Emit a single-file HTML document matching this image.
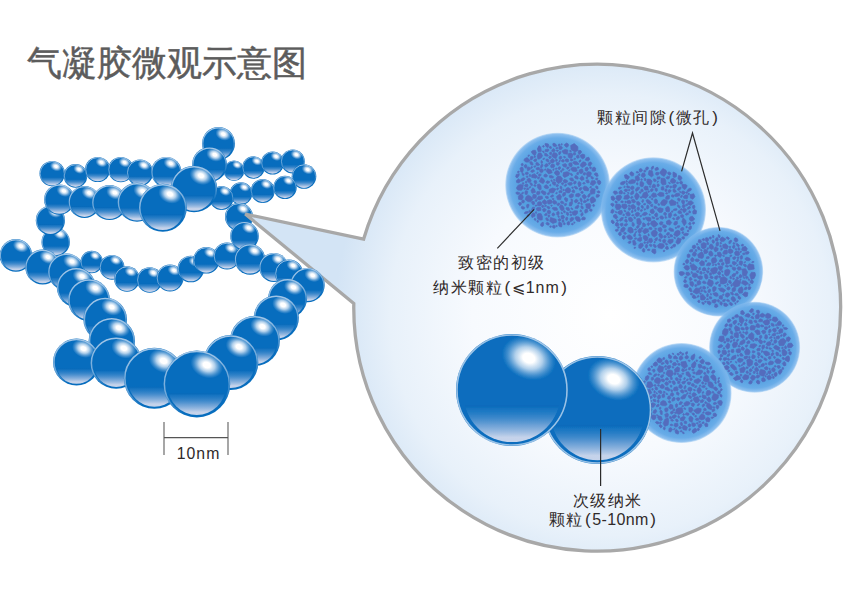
<!DOCTYPE html>
<html><head><meta charset="utf-8">
<style>
html,body{margin:0;padding:0;background:#fff;}
body{width:850px;height:604px;position:relative;overflow:hidden;font-family:"Liberation Sans",sans-serif;}
svg{position:absolute;left:0;top:0;}
.t{position:absolute;white-space:nowrap;color:#302a2a;font-size:16px;letter-spacing:1.5px;line-height:20px;}
.p{font-size:17px;letter-spacing:0;margin:0 1.5px;}
.l{letter-spacing:1px;}
.l2{letter-spacing:0.4px;}
</style></head><body>
<svg width="850" height="604" viewBox="0 0 850 604">
<defs>
<linearGradient id="bot" x1="0" y1="0" x2="0" y2="1">
<stop offset="0.612" stop-color="#076dbe" stop-opacity="0"/>
<stop offset="0.625" stop-color="#0a62b0" stop-opacity="0.25"/>
<stop offset="0.66" stop-color="#3583c9" stop-opacity="0.35"/>
<stop offset="0.82" stop-color="#8ab0dd" stop-opacity="0.75"/>
<stop offset="0.95" stop-color="#cbd6ec" stop-opacity="0.97"/>
<stop offset="1" stop-color="#cbd6ec" stop-opacity="0.97"/>
</linearGradient>
<radialGradient id="hl" cx="0.5" cy="0.5" r="0.5">
<stop offset="0" stop-color="#fff" stop-opacity="1"/>
<stop offset="0.22" stop-color="#fff" stop-opacity="1"/>
<stop offset="0.5" stop-color="#eaf1fa" stop-opacity="0.75"/>
<stop offset="0.78" stop-color="#cfdff3" stop-opacity="0.3"/>
<stop offset="1" stop-color="#b0cbec" stop-opacity="0"/>
</radialGradient>
<radialGradient id="bub" gradientUnits="userSpaceOnUse" cx="610" cy="315" r="275">
<stop offset="0" stop-color="#ffffff"/>
<stop offset="0.5" stop-color="#f7fafe"/>
<stop offset="0.8" stop-color="#e8f1fa"/>
<stop offset="1" stop-color="#d3e4f5"/>
</radialGradient>
<radialGradient id="por" cx="0.5" cy="0.5" r="0.5">
<stop offset="0" stop-color="#53a0e0"/>
<stop offset="0.72" stop-color="#53a0e0"/>
<stop offset="0.9" stop-color="#69ace8"/>
<stop offset="0.97" stop-color="#7ab5ec" stop-opacity="0.85"/>
<stop offset="1" stop-color="#8cc0ef" stop-opacity="0.4"/>
</radialGradient>

<filter id="soft" x="-10%" y="-10%" width="120%" height="120%"><feGaussianBlur stdDeviation="0.55"/></filter>
<linearGradient id="rim" x1="0.2" y1="0" x2="0.5" y2="1">
<stop offset="0" stop-color="#cfe0f3" stop-opacity="0.8"/>
<stop offset="0.6" stop-color="#b8d2ee" stop-opacity="0.55"/>
<stop offset="0.9" stop-color="#b8d2ee" stop-opacity="0"/>
</linearGradient>
</defs>
<g><circle cx="52.2" cy="173.6" r="12.7" fill="#076dbe"/><circle cx="52.2" cy="174.43" r="10.99" fill="url(#bot)"/><ellipse cx="56.0" cy="166.4" rx="6.3" ry="4.8" fill="url(#hl)" transform="rotate(22 56.0 166.4)"/><circle cx="52.2" cy="173.6" r="12.05" fill="none" stroke="url(#rim)" stroke-width="0.91"/></g><g><circle cx="75.5" cy="175.9" r="11.8" fill="#076dbe"/><circle cx="75.5" cy="176.67" r="10.21" fill="url(#bot)"/><ellipse cx="79.0" cy="169.2" rx="5.9" ry="4.5" fill="url(#hl)" transform="rotate(22 79.0 169.2)"/><circle cx="75.5" cy="175.9" r="11.18" fill="none" stroke="url(#rim)" stroke-width="0.84"/></g><g><circle cx="97.7" cy="169.5" r="12.6" fill="#076dbe"/><circle cx="97.7" cy="170.32" r="10.90" fill="url(#bot)"/><ellipse cx="101.5" cy="162.3" rx="6.3" ry="4.8" fill="url(#hl)" transform="rotate(22 101.5 162.3)"/><circle cx="97.7" cy="169.5" r="11.95" fill="none" stroke="url(#rim)" stroke-width="0.90"/></g><g><circle cx="120.8" cy="169.6" r="12.7" fill="#076dbe"/><circle cx="120.8" cy="170.43" r="10.99" fill="url(#bot)"/><ellipse cx="124.6" cy="162.4" rx="6.3" ry="4.8" fill="url(#hl)" transform="rotate(22 124.6 162.4)"/><circle cx="120.8" cy="169.6" r="12.05" fill="none" stroke="url(#rim)" stroke-width="0.91"/></g><g><circle cx="140.0" cy="172.6" r="13.2" fill="#076dbe"/><circle cx="140.0" cy="173.46" r="11.42" fill="url(#bot)"/><ellipse cx="144.0" cy="165.1" rx="6.6" ry="5.0" fill="url(#hl)" transform="rotate(22 144.0 165.1)"/><circle cx="140.0" cy="172.6" r="12.53" fill="none" stroke="url(#rim)" stroke-width="0.94"/></g><g><circle cx="166.3" cy="172.0" r="15.1" fill="#076dbe"/><circle cx="166.3" cy="172.98" r="13.06" fill="url(#bot)"/><ellipse cx="170.8" cy="163.4" rx="7.5" ry="5.7" fill="url(#hl)" transform="rotate(22 170.8 163.4)"/><circle cx="166.3" cy="172.0" r="14.36" fill="none" stroke="url(#rim)" stroke-width="1.08"/></g><g><circle cx="234.0" cy="170.8" r="10.3" fill="#076dbe"/><circle cx="234.0" cy="171.47" r="8.91" fill="url(#bot)"/><ellipse cx="237.1" cy="164.9" rx="5.2" ry="3.9" fill="url(#hl)" transform="rotate(22 237.1 164.9)"/><circle cx="234.0" cy="170.8" r="9.73" fill="none" stroke="url(#rim)" stroke-width="0.74"/></g><g><circle cx="253.5" cy="167.5" r="11.2" fill="#076dbe"/><circle cx="253.5" cy="168.23" r="9.69" fill="url(#bot)"/><ellipse cx="256.9" cy="161.1" rx="5.6" ry="4.3" fill="url(#hl)" transform="rotate(22 256.9 161.1)"/><circle cx="253.5" cy="167.5" r="10.60" fill="none" stroke="url(#rim)" stroke-width="0.80"/></g><g><circle cx="272.6" cy="163.0" r="11.5" fill="#076dbe"/><circle cx="272.6" cy="163.75" r="9.95" fill="url(#bot)"/><ellipse cx="276.1" cy="156.4" rx="5.8" ry="4.4" fill="url(#hl)" transform="rotate(22 276.1 156.4)"/><circle cx="272.6" cy="163.0" r="10.89" fill="none" stroke="url(#rim)" stroke-width="0.82"/></g><g><circle cx="292.8" cy="161.4" r="12.0" fill="#076dbe"/><circle cx="292.8" cy="162.18" r="10.38" fill="url(#bot)"/><ellipse cx="296.4" cy="154.6" rx="6.0" ry="4.6" fill="url(#hl)" transform="rotate(22 296.4 154.6)"/><circle cx="292.8" cy="161.4" r="11.37" fill="none" stroke="url(#rim)" stroke-width="0.86"/></g><g><circle cx="304.0" cy="176.5" r="12.3" fill="#076dbe"/><circle cx="304.0" cy="177.30" r="10.64" fill="url(#bot)"/><ellipse cx="307.7" cy="169.5" rx="6.2" ry="4.7" fill="url(#hl)" transform="rotate(22 307.7 169.5)"/><circle cx="304.0" cy="176.5" r="11.66" fill="none" stroke="url(#rim)" stroke-width="0.88"/></g><g><circle cx="285.0" cy="187.4" r="11.7" fill="#076dbe"/><circle cx="285.0" cy="188.16" r="10.12" fill="url(#bot)"/><ellipse cx="288.5" cy="180.7" rx="5.8" ry="4.4" fill="url(#hl)" transform="rotate(22 288.5 180.7)"/><circle cx="285.0" cy="187.4" r="11.08" fill="none" stroke="url(#rim)" stroke-width="0.84"/></g><g><circle cx="262.7" cy="191.0" r="12.0" fill="#076dbe"/><circle cx="262.7" cy="191.78" r="10.38" fill="url(#bot)"/><ellipse cx="266.3" cy="184.2" rx="6.0" ry="4.6" fill="url(#hl)" transform="rotate(22 266.3 184.2)"/><circle cx="262.7" cy="191.0" r="11.37" fill="none" stroke="url(#rim)" stroke-width="0.86"/></g><g><circle cx="241.0" cy="193.6" r="11.3" fill="#076dbe"/><circle cx="241.0" cy="194.33" r="9.77" fill="url(#bot)"/><ellipse cx="244.4" cy="187.2" rx="5.7" ry="4.3" fill="url(#hl)" transform="rotate(22 244.4 187.2)"/><circle cx="241.0" cy="193.6" r="10.70" fill="none" stroke="url(#rim)" stroke-width="0.81"/></g><g><circle cx="221.5" cy="198.0" r="12.0" fill="#076dbe"/><circle cx="221.5" cy="198.78" r="10.38" fill="url(#bot)"/><ellipse cx="225.1" cy="191.2" rx="6.0" ry="4.6" fill="url(#hl)" transform="rotate(22 225.1 191.2)"/><circle cx="221.5" cy="198.0" r="11.37" fill="none" stroke="url(#rim)" stroke-width="0.86"/></g><g><circle cx="218.5" cy="143.5" r="16.5" fill="#076dbe"/><circle cx="218.5" cy="144.57" r="14.27" fill="url(#bot)"/><ellipse cx="223.4" cy="134.1" rx="8.2" ry="6.3" fill="url(#hl)" transform="rotate(22 223.4 134.1)"/><circle cx="218.5" cy="143.5" r="15.71" fill="none" stroke="url(#rim)" stroke-width="1.18"/></g><g><circle cx="209.5" cy="164.7" r="17.5" fill="#076dbe"/><circle cx="209.5" cy="165.84" r="15.14" fill="url(#bot)"/><ellipse cx="214.8" cy="154.7" rx="8.8" ry="6.7" fill="url(#hl)" transform="rotate(22 214.8 154.7)"/><circle cx="209.5" cy="164.7" r="16.68" fill="none" stroke="url(#rim)" stroke-width="1.25"/></g><g><circle cx="194.0" cy="189.0" r="23.3" fill="#076dbe"/><circle cx="194.0" cy="190.51" r="20.15" fill="url(#bot)"/><ellipse cx="201.0" cy="175.7" rx="11.7" ry="8.9" fill="url(#hl)" transform="rotate(22 201.0 175.7)"/><circle cx="194.0" cy="189.0" r="22.35" fill="none" stroke="url(#rim)" stroke-width="1.50"/></g><g><circle cx="55.7" cy="242.0" r="14.2" fill="#076dbe"/><circle cx="55.7" cy="242.92" r="12.28" fill="url(#bot)"/><ellipse cx="60.0" cy="233.9" rx="7.1" ry="5.4" fill="url(#hl)" transform="rotate(22 60.0 233.9)"/><circle cx="55.7" cy="242.0" r="13.49" fill="none" stroke="url(#rim)" stroke-width="1.01"/></g><g><circle cx="50.4" cy="220.4" r="14.6" fill="#076dbe"/><circle cx="50.4" cy="221.35" r="12.63" fill="url(#bot)"/><ellipse cx="54.8" cy="212.1" rx="7.3" ry="5.5" fill="url(#hl)" transform="rotate(22 54.8 212.1)"/><circle cx="50.4" cy="220.4" r="13.88" fill="none" stroke="url(#rim)" stroke-width="1.04"/></g><g><circle cx="59.3" cy="199.6" r="15.2" fill="#076dbe"/><circle cx="59.3" cy="200.59" r="13.15" fill="url(#bot)"/><ellipse cx="63.9" cy="190.9" rx="7.6" ry="5.8" fill="url(#hl)" transform="rotate(22 63.9 190.9)"/><circle cx="59.3" cy="199.6" r="14.46" fill="none" stroke="url(#rim)" stroke-width="1.09"/></g><g><circle cx="84.5" cy="202.0" r="16.0" fill="#076dbe"/><circle cx="84.5" cy="203.04" r="13.84" fill="url(#bot)"/><ellipse cx="89.3" cy="192.9" rx="8.0" ry="6.1" fill="url(#hl)" transform="rotate(22 89.3 192.9)"/><circle cx="84.5" cy="202.0" r="15.23" fill="none" stroke="url(#rim)" stroke-width="1.14"/></g><g><circle cx="109.5" cy="202.6" r="17.5" fill="#076dbe"/><circle cx="109.5" cy="203.74" r="15.14" fill="url(#bot)"/><ellipse cx="114.8" cy="192.6" rx="8.8" ry="6.7" fill="url(#hl)" transform="rotate(22 114.8 192.6)"/><circle cx="109.5" cy="202.6" r="16.68" fill="none" stroke="url(#rim)" stroke-width="1.25"/></g><g><circle cx="137.0" cy="202.3" r="19.5" fill="#076dbe"/><circle cx="137.0" cy="203.57" r="16.87" fill="url(#bot)"/><ellipse cx="142.8" cy="191.2" rx="9.8" ry="7.4" fill="url(#hl)" transform="rotate(22 142.8 191.2)"/><circle cx="137.0" cy="202.3" r="18.60" fill="none" stroke="url(#rim)" stroke-width="1.39"/></g><g><circle cx="162.8" cy="207.8" r="24.0" fill="#076dbe"/><circle cx="162.8" cy="209.36" r="20.76" fill="url(#bot)"/><ellipse cx="170.0" cy="194.1" rx="12.0" ry="9.1" fill="url(#hl)" transform="rotate(22 170.0 194.1)"/><circle cx="162.8" cy="207.8" r="23.05" fill="none" stroke="url(#rim)" stroke-width="1.50"/></g><g><circle cx="15.9" cy="255.4" r="16.3" fill="#076dbe"/><circle cx="15.9" cy="256.46" r="14.10" fill="url(#bot)"/><ellipse cx="20.8" cy="246.1" rx="8.2" ry="6.2" fill="url(#hl)" transform="rotate(22 20.8 246.1)"/><circle cx="15.9" cy="255.4" r="15.52" fill="none" stroke="url(#rim)" stroke-width="1.16"/></g><g><circle cx="42.7" cy="267.0" r="17.5" fill="#076dbe"/><circle cx="42.7" cy="268.14" r="15.14" fill="url(#bot)"/><ellipse cx="48.0" cy="257.0" rx="8.8" ry="6.7" fill="url(#hl)" transform="rotate(22 48.0 257.0)"/><circle cx="42.7" cy="267.0" r="16.68" fill="none" stroke="url(#rim)" stroke-width="1.25"/></g><g><circle cx="66.5" cy="272.0" r="18.5" fill="#076dbe"/><circle cx="66.5" cy="273.20" r="16.00" fill="url(#bot)"/><ellipse cx="72.0" cy="261.5" rx="9.2" ry="7.0" fill="url(#hl)" transform="rotate(22 72.0 261.5)"/><circle cx="66.5" cy="272.0" r="17.64" fill="none" stroke="url(#rim)" stroke-width="1.32"/></g><g><circle cx="91.7" cy="262.0" r="11.2" fill="#076dbe"/><circle cx="91.7" cy="262.73" r="9.69" fill="url(#bot)"/><ellipse cx="95.1" cy="255.6" rx="5.6" ry="4.3" fill="url(#hl)" transform="rotate(22 95.1 255.6)"/><circle cx="91.7" cy="262.0" r="10.60" fill="none" stroke="url(#rim)" stroke-width="0.80"/></g><g><circle cx="112.0" cy="267.3" r="12.4" fill="#076dbe"/><circle cx="112.0" cy="268.11" r="10.73" fill="url(#bot)"/><ellipse cx="115.7" cy="260.2" rx="6.2" ry="4.7" fill="url(#hl)" transform="rotate(22 115.7 260.2)"/><circle cx="112.0" cy="267.3" r="11.76" fill="none" stroke="url(#rim)" stroke-width="0.89"/></g><g><circle cx="127.0" cy="279.0" r="12.8" fill="#076dbe"/><circle cx="127.0" cy="279.83" r="11.07" fill="url(#bot)"/><ellipse cx="130.8" cy="271.7" rx="6.4" ry="4.9" fill="url(#hl)" transform="rotate(22 130.8 271.7)"/><circle cx="127.0" cy="279.0" r="12.14" fill="none" stroke="url(#rim)" stroke-width="0.91"/></g><g><circle cx="149.7" cy="280.0" r="12.8" fill="#076dbe"/><circle cx="149.7" cy="280.83" r="11.07" fill="url(#bot)"/><ellipse cx="153.5" cy="272.7" rx="6.4" ry="4.9" fill="url(#hl)" transform="rotate(22 153.5 272.7)"/><circle cx="149.7" cy="280.0" r="12.14" fill="none" stroke="url(#rim)" stroke-width="0.91"/></g><g><circle cx="170.0" cy="278.0" r="13.5" fill="#076dbe"/><circle cx="170.0" cy="278.88" r="11.68" fill="url(#bot)"/><ellipse cx="174.1" cy="270.3" rx="6.8" ry="5.1" fill="url(#hl)" transform="rotate(22 174.1 270.3)"/><circle cx="170.0" cy="278.0" r="12.82" fill="none" stroke="url(#rim)" stroke-width="0.96"/></g><g><circle cx="190.8" cy="269.0" r="13.3" fill="#076dbe"/><circle cx="190.8" cy="269.86" r="11.50" fill="url(#bot)"/><ellipse cx="194.8" cy="261.4" rx="6.7" ry="5.1" fill="url(#hl)" transform="rotate(22 194.8 261.4)"/><circle cx="190.8" cy="269.0" r="12.63" fill="none" stroke="url(#rim)" stroke-width="0.95"/></g><g><circle cx="206.3" cy="260.3" r="13.3" fill="#076dbe"/><circle cx="206.3" cy="261.16" r="11.50" fill="url(#bot)"/><ellipse cx="210.3" cy="252.7" rx="6.7" ry="5.1" fill="url(#hl)" transform="rotate(22 210.3 252.7)"/><circle cx="206.3" cy="260.3" r="12.63" fill="none" stroke="url(#rim)" stroke-width="0.95"/></g><g><circle cx="76.3" cy="287.4" r="19.5" fill="#076dbe"/><circle cx="76.3" cy="288.67" r="16.87" fill="url(#bot)"/><ellipse cx="82.1" cy="276.3" rx="9.8" ry="7.4" fill="url(#hl)" transform="rotate(22 82.1 276.3)"/><circle cx="76.3" cy="287.4" r="18.60" fill="none" stroke="url(#rim)" stroke-width="1.39"/></g><g><circle cx="89.0" cy="300.0" r="21.0" fill="#076dbe"/><circle cx="89.0" cy="301.37" r="18.16" fill="url(#bot)"/><ellipse cx="95.3" cy="288.0" rx="10.5" ry="8.0" fill="url(#hl)" transform="rotate(22 95.3 288.0)"/><circle cx="89.0" cy="300.0" r="20.05" fill="none" stroke="url(#rim)" stroke-width="1.50"/></g><g><circle cx="105.2" cy="319.4" r="21.8" fill="#076dbe"/><circle cx="105.2" cy="320.82" r="18.86" fill="url(#bot)"/><ellipse cx="111.7" cy="307.0" rx="10.9" ry="8.3" fill="url(#hl)" transform="rotate(22 111.7 307.0)"/><circle cx="105.2" cy="319.4" r="20.85" fill="none" stroke="url(#rim)" stroke-width="1.50"/></g><g><circle cx="111.8" cy="341.0" r="23.2" fill="#076dbe"/><circle cx="111.8" cy="342.51" r="20.07" fill="url(#bot)"/><ellipse cx="118.8" cy="327.8" rx="11.6" ry="8.8" fill="url(#hl)" transform="rotate(22 118.8 327.8)"/><circle cx="111.8" cy="341.0" r="22.25" fill="none" stroke="url(#rim)" stroke-width="1.50"/></g><g><circle cx="76.5" cy="362.0" r="23.5" fill="#076dbe"/><circle cx="76.5" cy="363.53" r="20.33" fill="url(#bot)"/><ellipse cx="83.5" cy="348.6" rx="11.8" ry="8.9" fill="url(#hl)" transform="rotate(22 83.5 348.6)"/><circle cx="76.5" cy="362.0" r="22.55" fill="none" stroke="url(#rim)" stroke-width="1.50"/></g><g><circle cx="116.2" cy="363.0" r="25.8" fill="#076dbe"/><circle cx="116.2" cy="364.68" r="22.32" fill="url(#bot)"/><ellipse cx="123.9" cy="348.3" rx="12.9" ry="9.8" fill="url(#hl)" transform="rotate(22 123.9 348.3)"/><circle cx="116.2" cy="363.0" r="24.85" fill="none" stroke="url(#rim)" stroke-width="1.50"/></g><g><circle cx="154.4" cy="378.3" r="30.5" fill="#076dbe"/><circle cx="154.4" cy="380.28" r="26.38" fill="url(#bot)"/><ellipse cx="163.6" cy="360.9" rx="15.2" ry="11.6" fill="url(#hl)" transform="rotate(22 163.6 360.9)"/><circle cx="154.4" cy="378.3" r="29.55" fill="none" stroke="url(#rim)" stroke-width="1.50"/></g><g><circle cx="239.0" cy="216.8" r="14.0" fill="#076dbe"/><circle cx="239.0" cy="217.71" r="12.11" fill="url(#bot)"/><ellipse cx="243.2" cy="208.8" rx="7.0" ry="5.3" fill="url(#hl)" transform="rotate(22 243.2 208.8)"/><circle cx="239.0" cy="216.8" r="13.30" fill="none" stroke="url(#rim)" stroke-width="1.00"/></g>
<path d="M363.65,239.05 L245.3,214.1 L353.8,303.5 A243.4,243.4 0 1 0 363.65,239.05 Z" fill="url(#bub)" stroke="#a8a8a8" stroke-width="3.3" stroke-linejoin="miter"/>
<g><circle cx="227.0" cy="256.0" r="13.5" fill="#076dbe"/><circle cx="227.0" cy="256.88" r="11.68" fill="url(#bot)"/><ellipse cx="231.1" cy="248.3" rx="6.8" ry="5.1" fill="url(#hl)" transform="rotate(22 231.1 248.3)"/><circle cx="227.0" cy="256.0" r="12.82" fill="none" stroke="url(#rim)" stroke-width="0.96"/></g><g><circle cx="244.5" cy="236.1" r="14.3" fill="#076dbe"/><circle cx="244.5" cy="237.03" r="12.37" fill="url(#bot)"/><ellipse cx="248.8" cy="227.9" rx="7.2" ry="5.4" fill="url(#hl)" transform="rotate(22 248.8 227.9)"/><circle cx="244.5" cy="236.1" r="13.59" fill="none" stroke="url(#rim)" stroke-width="1.02"/></g><g><circle cx="250.0" cy="259.4" r="15.3" fill="#076dbe"/><circle cx="250.0" cy="260.39" r="13.23" fill="url(#bot)"/><ellipse cx="254.6" cy="250.7" rx="7.7" ry="5.8" fill="url(#hl)" transform="rotate(22 254.6 250.7)"/><circle cx="250.0" cy="259.4" r="14.55" fill="none" stroke="url(#rim)" stroke-width="1.09"/></g><g><circle cx="273.8" cy="267.4" r="14.5" fill="#076dbe"/><circle cx="273.8" cy="268.34" r="12.54" fill="url(#bot)"/><ellipse cx="278.2" cy="259.1" rx="7.2" ry="5.5" fill="url(#hl)" transform="rotate(22 278.2 259.1)"/><circle cx="273.8" cy="267.4" r="13.78" fill="none" stroke="url(#rim)" stroke-width="1.04"/></g><g><circle cx="289.0" cy="273.5" r="14.0" fill="#076dbe"/><circle cx="289.0" cy="274.41" r="12.11" fill="url(#bot)"/><ellipse cx="293.2" cy="265.5" rx="7.0" ry="5.3" fill="url(#hl)" transform="rotate(22 293.2 265.5)"/><circle cx="289.0" cy="273.5" r="13.30" fill="none" stroke="url(#rim)" stroke-width="1.00"/></g><g><circle cx="307.5" cy="285.1" r="17.2" fill="#076dbe"/><circle cx="307.5" cy="286.22" r="14.88" fill="url(#bot)"/><ellipse cx="312.7" cy="275.3" rx="8.6" ry="6.5" fill="url(#hl)" transform="rotate(22 312.7 275.3)"/><circle cx="307.5" cy="285.1" r="16.39" fill="none" stroke="url(#rim)" stroke-width="1.23"/></g><g><circle cx="287.6" cy="298.4" r="19.5" fill="#076dbe"/><circle cx="287.6" cy="299.67" r="16.87" fill="url(#bot)"/><ellipse cx="293.5" cy="287.3" rx="9.8" ry="7.4" fill="url(#hl)" transform="rotate(22 293.5 287.3)"/><circle cx="287.6" cy="298.4" r="18.60" fill="none" stroke="url(#rim)" stroke-width="1.39"/></g><g><circle cx="276.3" cy="317.8" r="22.6" fill="#076dbe"/><circle cx="276.3" cy="319.27" r="19.55" fill="url(#bot)"/><ellipse cx="283.1" cy="304.9" rx="11.3" ry="8.6" fill="url(#hl)" transform="rotate(22 283.1 304.9)"/><circle cx="276.3" cy="317.8" r="21.65" fill="none" stroke="url(#rim)" stroke-width="1.50"/></g><g><circle cx="254.9" cy="340.8" r="25.0" fill="#076dbe"/><circle cx="254.9" cy="342.43" r="21.62" fill="url(#bot)"/><ellipse cx="262.4" cy="326.6" rx="12.5" ry="9.5" fill="url(#hl)" transform="rotate(22 262.4 326.6)"/><circle cx="254.9" cy="340.8" r="24.05" fill="none" stroke="url(#rim)" stroke-width="1.50"/></g><g><circle cx="230.8" cy="362.5" r="27.5" fill="#076dbe"/><circle cx="230.8" cy="364.29" r="23.79" fill="url(#bot)"/><ellipse cx="239.1" cy="346.8" rx="13.8" ry="10.4" fill="url(#hl)" transform="rotate(22 239.1 346.8)"/><circle cx="230.8" cy="362.5" r="26.55" fill="none" stroke="url(#rim)" stroke-width="1.50"/></g><g><circle cx="196.8" cy="384.0" r="33.4" fill="#076dbe"/><circle cx="196.8" cy="386.17" r="28.89" fill="url(#bot)"/><ellipse cx="206.8" cy="365.0" rx="16.7" ry="12.7" fill="url(#hl)" transform="rotate(22 206.8 365.0)"/><circle cx="196.8" cy="384.0" r="32.45" fill="none" stroke="url(#rim)" stroke-width="1.50"/></g>
<circle cx="557.6" cy="185.1" r="52.4" fill="url(#por)"/><path fill="#546cbd" stroke="#546cbd" stroke-width="0.7" stroke-linejoin="round" d="M531.2,196.8 533.0,199.5 530.5,201.8 527.9,201.6 525.1,199.5 526.2,196.4 528.4,195.2ZM564.6,177.5 563.0,175.9 563.4,172.6 567.2,171.7 569.7,173.0 568.7,175.4ZM567.6,200.9 566.2,202.0 564.3,199.0 565.1,197.4 567.5,198.5ZM577.6,179.2 575.5,178.5 574.4,177.2 575.7,175.3 577.6,176.5 578.4,178.1ZM585.7,204.1 589.8,203.6 590.9,205.5 589.7,208.9 586.3,207.9ZM558.7,225.6 558.7,222.9 559.1,222.0 561.5,222.9 562.0,224.2 561.7,226.9 559.8,226.7ZM547.8,213.5 547.0,212.1 548.0,210.2 550.3,210.8 550.6,212.6 550.0,213.7ZM573.0,215.0 572.0,212.2 574.4,210.7 577.5,210.9 577.6,213.2 575.7,215.3ZM575.6,196.2 575.9,194.0 579.0,193.3 580.6,195.0 578.6,196.9ZM549.7,221.3 550.5,217.4 556.1,219.3 556.4,222.2 552.9,223.4ZM556.6,203.5 554.3,204.2 552.7,203.1 553.5,200.4 555.2,200.7 556.9,202.1ZM554.3,151.7 551.9,151.6 551.8,150.1 553.4,148.4 555.3,150.0ZM549.2,192.5 549.2,189.4 552.7,188.0 555.9,189.1 553.4,193.0ZM534.4,173.7 537.4,176.3 535.8,178.2 531.7,177.4 531.7,174.9ZM567.9,159.0 568.6,159.8 568.4,161.7 566.9,162.1 565.2,160.9 565.1,159.8 566.5,158.8ZM552.2,172.7 548.7,174.0 546.3,171.3 547.5,168.5 551.2,170.1ZM556.5,196.6 559.7,194.0 561.5,196.4 560.6,199.8 557.5,199.6ZM591.4,173.5 590.4,176.4 587.6,176.7 586.1,173.7 587.8,171.7 590.6,172.0ZM543.3,170.4 542.8,171.9 541.5,172.8 539.9,171.7 539.7,169.7 541.0,168.7 542.7,169.2ZM555.7,183.9 555.2,185.3 553.8,185.0 552.4,183.9 552.5,181.9 553.7,181.7 555.4,182.1ZM558.9,149.0 559.1,146.6 560.7,145.9 561.9,146.9 562.5,147.7 561.5,149.2 560.3,149.7ZM533.3,169.7 534.7,171.0 532.6,172.5 530.7,171.7 531.4,170.2ZM588.2,190.9 584.3,190.5 582.7,187.9 584.5,185.9 586.8,186.7 588.9,188.7ZM541.6,157.6 539.3,159.0 537.9,159.1 537.3,155.7 538.5,153.1 540.9,152.9 542.5,155.6ZM582.7,154.1 584.7,154.8 584.8,157.4 582.7,158.9 580.9,157.6 580.2,155.3ZM591.6,180.7 595.0,180.7 595.8,183.1 593.0,185.6 590.2,184.2ZM542.2,219.9 539.9,220.1 537.5,218.8 537.2,214.3 538.9,213.4 541.1,213.7 542.4,216.5ZM571.6,167.7 573.5,167.2 576.3,167.8 577.1,170.7 576.2,171.6 572.6,171.2 570.7,169.2ZM529.7,162.3 531.0,161.4 532.6,162.7 533.1,164.9 531.7,165.0 530.4,164.2ZM543.2,183.6 541.2,182.8 539.2,181.4 540.2,179.4 541.5,177.6 543.7,179.0 544.7,181.2ZM561.5,189.7 560.0,187.9 560.2,186.3 561.3,186.2 562.0,187.8ZM553.9,210.3 552.0,208.3 553.0,207.4 556.4,207.5 557.3,208.6 557.4,210.2ZM539.3,184.0 541.0,185.6 541.2,189.3 539.8,190.2 537.7,188.1 537.5,184.5ZM571.0,149.5 570.7,145.5 574.2,143.6 577.9,146.7 577.8,150.5 575.0,152.0ZM525.3,164.5 526.4,164.8 527.1,166.4 526.6,167.6 525.5,168.2 524.0,166.2 524.4,165.3ZM536.7,198.9 538.5,196.2 542.1,196.2 542.7,198.5 539.7,199.9ZM560.9,156.1 561.9,157.1 561.6,158.6 560.3,159.4 559.6,159.2 558.9,158.0 559.7,156.4ZM525.2,184.4 527.2,184.0 528.0,185.1 527.6,186.7 525.8,187.1 524.4,185.7ZM580.5,201.1 579.9,199.1 580.6,197.9 581.9,199.1 582.2,201.0 581.5,202.4ZM523.2,185.1 522.7,189.0 521.3,190.3 517.7,190.1 516.4,188.1 517.9,185.4 520.3,184.4ZM577.4,158.3 576.7,157.7 576.3,156.0 577.6,155.1 578.6,154.8 579.1,156.3 579.2,157.8ZM590.7,194.3 590.2,191.2 591.6,188.4 595.2,189.1 594.7,193.6ZM572.3,201.0 572.5,203.6 571.3,205.9 569.1,205.7 569.6,202.6ZM534.6,207.2 534.5,209.1 533.1,211.0 532.0,211.6 531.6,209.6 532.5,207.2ZM556.8,175.6 554.6,173.6 554.6,172.0 555.9,170.8 558.2,170.8 559.7,172.7 559.1,174.7ZM586.5,164.4 584.9,166.1 582.4,167.6 580.5,166.1 580.8,163.8 583.0,161.8 585.3,162.3ZM579.0,164.2 576.1,164.8 574.7,164.4 572.6,162.9 574.0,161.2 576.1,161.4 578.3,162.9ZM554.3,160.0 554.2,161.9 552.7,162.9 551.2,162.7 550.3,160.8 551.0,159.7 552.6,158.6ZM542.5,209.5 544.4,208.1 546.3,209.7 544.9,211.7 543.2,211.5ZM573.0,154.7 571.9,157.9 570.0,158.2 568.4,157.2 568.0,154.8 568.8,153.2 571.4,153.1ZM540.6,201.7 541.8,203.0 541.6,205.1 539.9,206.0 537.7,205.6 537.4,203.2 538.0,202.0ZM570.6,191.3 569.3,192.9 566.8,192.7 564.8,190.5 566.2,188.4 568.0,187.5 570.3,188.8ZM551.1,200.0 552.6,201.5 551.2,203.6 548.6,204.2 547.6,203.2 547.5,200.4 549.7,199.8ZM569.5,182.4 571.7,182.5 572.5,184.0 571.1,185.3 568.8,185.1 567.6,183.6ZM581.8,212.7 582.4,212.4 583.2,214.2 582.7,215.3 581.5,216.3 580.7,214.6ZM521.9,200.0 518.5,199.2 518.4,196.3 520.5,193.8 523.0,195.7 523.2,197.6ZM545.9,159.9 546.3,159.0 548.0,159.1 548.8,160.4 549.1,161.6 548.1,162.1 546.3,161.0ZM535.8,163.8 536.5,162.3 538.1,162.9 539.2,163.9 539.6,164.9 538.2,165.5 536.3,165.2ZM532.0,193.3 531.0,190.6 532.7,187.9 534.5,189.1 535.5,192.2ZM570.5,221.8 569.9,218.9 571.2,217.4 573.5,217.8 573.3,220.1ZM524.9,213.8 524.3,213.3 525.1,211.9 526.4,211.6 528.1,211.6 528.4,212.6 526.8,213.4ZM526.9,204.5 528.9,204.3 529.0,205.7 527.9,208.1 527.0,207.8 526.5,206.0ZM530.1,160.8 528.3,162.1 525.7,162.1 523.9,160.2 524.6,158.7 527.1,157.5 528.5,158.8ZM540.9,147.2 541.3,151.3 538.5,152.0 537.3,149.0 539.0,145.6ZM518.6,178.8 520.8,180.9 518.9,183.0 516.7,182.6 516.3,180.8ZM579.7,178.6 581.9,175.7 583.8,177.5 584.0,179.5 581.5,180.4ZM526.5,174.7 525.0,173.7 525.9,172.3 528.0,172.2 528.3,173.9ZM563.9,209.9 562.1,210.8 560.7,209.7 559.4,206.9 560.6,204.7 562.7,205.6 564.1,208.1ZM547.5,156.3 544.8,155.7 544.6,153.5 546.0,153.2 548.4,155.4ZM587.2,167.1 588.5,168.7 587.1,171.2 585.3,170.7 585.1,168.0ZM543.8,194.8 541.8,193.2 540.9,191.5 542.4,190.5 545.8,192.1 545.9,193.6 545.2,194.8ZM548.2,143.9 548.9,145.5 547.8,147.6 546.4,146.9 545.0,144.9 545.2,143.4ZM575.7,189.0 574.4,187.4 574.3,186.2 576.1,186.4 577.8,188.0 577.2,189.0ZM568.8,195.7 570.1,194.5 571.6,193.7 573.5,194.4 573.2,196.6 572.2,197.6 570.0,197.8ZM523.4,169.8 522.5,172.7 520.8,171.8 520.0,168.6 521.3,167.0 522.9,167.5ZM528.9,178.0 530.2,178.7 531.2,180.6 530.5,182.1 528.7,182.5 527.4,181.1 526.9,179.5ZM565.3,163.5 566.9,164.9 566.0,167.2 563.5,166.7 562.3,164.7ZM559.7,163.6 558.2,165.4 556.3,164.7 556.5,162.5 558.4,162.2ZM592.0,169.9 592.7,167.7 594.2,167.1 595.7,168.2 595.4,171.0 594.4,171.3 592.4,171.1ZM583.4,208.3 582.2,208.9 580.9,207.7 581.0,205.8 582.7,206.2ZM560.6,176.3 562.5,178.7 561.2,182.1 558.1,183.6 555.9,180.9 556.2,178.1 557.9,176.0ZM564.0,215.8 564.5,217.6 563.5,218.7 561.8,219.0 560.9,216.8 561.3,215.8 563.0,215.3ZM568.3,221.5 569.4,221.7 569.7,224.3 568.7,225.1 567.1,224.4 567.0,222.6ZM545.5,174.0 547.1,174.9 547.5,175.8 546.5,177.1 544.6,177.0 543.8,176.1 544.1,174.8ZM526.0,190.5 527.9,191.7 527.4,193.3 527.1,194.5 525.1,194.2 524.9,192.3 525.4,190.9ZM546.6,201.4 546.6,203.4 544.6,204.6 542.6,202.8 542.4,201.2 544.6,199.6ZM544.1,186.4 545.3,185.1 546.6,184.8 548.5,186.9 548.6,188.0 547.2,188.8 544.6,188.0ZM585.2,160.1 586.4,157.8 588.8,157.2 589.8,159.5 588.2,161.1ZM578.9,206.6 577.7,208.5 575.0,208.2 575.5,206.7 578.2,204.8ZM589.2,182.7 587.3,183.0 586.3,182.0 585.8,180.6 587.1,179.9 588.3,179.8 589.1,181.5ZM580.8,153.3 579.6,154.4 578.3,153.3 578.1,152.2 578.6,150.6 580.8,150.6 581.6,152.0ZM550.5,166.0 551.7,164.0 554.1,164.3 554.7,165.9 553.9,167.5 551.2,167.8ZM567.9,150.1 567.4,154.2 563.7,153.7 561.8,151.0 565.1,149.4ZM593.2,202.7 591.2,203.2 590.0,199.4 591.1,197.5 593.1,196.8 595.3,198.9 595.5,201.2ZM575.8,202.9 574.2,201.7 575.0,200.0 576.5,199.1 578.1,200.7 577.5,201.9ZM553.0,145.7 552.8,143.8 554.0,143.1 556.1,144.5 556.8,145.9 555.6,146.8 554.1,146.4ZM534.7,204.0 533.1,205.0 531.5,202.8 531.9,201.4 534.2,201.6ZM543.2,222.3 543.6,223.3 543.4,225.8 542.4,226.4 540.9,226.0 540.6,224.2 541.9,222.6ZM549.8,177.8 549.3,175.8 551.4,175.4 553.7,176.8 552.8,178.1ZM547.0,166.7 545.5,167.2 544.4,165.5 545.9,163.8 547.4,163.8 548.4,165.3ZM580.5,173.5 579.1,172.1 579.2,170.1 581.5,169.0 582.6,169.4 583.2,171.9 581.8,173.5ZM530.7,156.5 532.6,156.6 533.2,157.2 532.9,158.6 531.6,160.0 530.2,159.6 530.3,158.0ZM532.9,212.8 534.9,213.8 535.0,216.1 532.0,217.6 531.3,215.3ZM588.1,197.4 587.6,195.9 589.2,193.6 590.2,194.1 590.0,196.1ZM558.4,215.6 556.8,214.8 556.6,212.4 558.4,211.2 559.3,213.1ZM568.0,210.7 565.9,208.9 566.4,207.6 568.9,207.7 569.7,210.2ZM539.2,167.5 539.8,169.5 537.6,169.9 536.2,169.3 536.2,168.1 537.5,167.4ZM585.3,209.3 587.2,209.1 587.9,211.5 587.1,212.6 585.0,213.1 584.7,210.7ZM577.8,183.3 578.9,181.4 580.9,182.7 581.0,185.2 578.9,187.0ZM524.5,179.7 522.6,181.0 521.2,181.2 520.8,179.6 522.2,178.2 524.2,177.7 525.1,178.7ZM545.2,151.4 545.1,149.8 548.1,148.9 549.1,150.0 547.8,151.7ZM580.4,219.6 579.9,221.5 576.9,221.1 574.9,218.1 575.9,216.6 579.1,217.0ZM568.9,214.7 567.6,215.7 566.3,214.3 566.5,212.2 568.1,212.4ZM521.3,202.8 521.4,204.4 519.8,205.8 518.2,203.7 519.4,202.3ZM573.8,180.9 571.4,181.1 570.2,179.9 569.4,178.7 570.6,178.0 572.5,177.9 573.4,179.4ZM563.8,202.6 563.4,203.8 561.4,203.6 560.3,202.0 561.3,201.1 563.1,201.5ZM553.5,152.6 556.5,153.2 557.6,155.1 555.9,158.6 553.7,157.7 551.7,156.1ZM549.1,206.4 550.2,207.9 549.4,208.8 548.5,208.9 547.3,207.9 546.6,206.6 547.9,206.4ZM590.8,161.9 591.9,163.6 590.0,166.2 588.0,165.1 588.9,162.5ZM570.5,167.1 569.1,165.7 568.7,164.7 569.1,163.1 571.2,162.8 572.1,163.6 572.1,166.2ZM582.9,216.9 585.1,217.4 585.4,218.7 584.9,219.7 582.7,219.9 581.4,219.3 581.9,218.3ZM552.7,194.8 553.6,195.4 553.3,196.5 551.4,197.3 550.4,196.8 550.9,195.7ZM563.6,192.5 565.8,192.5 565.2,195.4 562.9,196.4 562.5,194.3ZM596.4,176.4 594.0,174.2 595.8,172.8 597.4,173.3 598.2,176.1ZM535.1,155.4 532.8,154.2 531.2,151.8 532.9,150.4 535.3,150.3 536.3,152.6ZM547.2,217.7 548.4,219.2 548.4,220.7 547.3,221.0 546.0,219.5 545.8,218.0ZM533.9,181.3 534.8,180.6 536.4,180.8 536.8,182.6 536.0,183.9 534.7,183.4ZM586.0,197.7 584.5,199.1 582.4,197.2 582.3,195.6 583.9,194.6 584.9,194.7 586.5,196.8ZM536.7,210.3 536.4,208.2 537.5,207.4 540.7,207.6 540.9,209.2 541.0,210.3 538.6,210.9ZM564.1,179.5 565.4,179.6 567.2,180.3 567.6,182.0 565.8,183.1 564.3,182.7 563.0,180.7ZM560.1,166.7 560.9,168.1 559.2,169.9 558.0,168.5 558.5,167.1ZM530.8,182.7 531.8,183.2 532.6,184.8 532.3,185.6 531.3,185.7 530.5,184.7 529.8,183.0ZM541.4,164.4 542.6,164.1 542.9,165.8 541.9,167.6 540.7,168.1 540.6,167.3 540.8,165.6ZM559.0,192.6 558.8,191.6 560.3,190.2 562.1,191.1 561.9,192.7ZM517.2,178.0 515.7,177.0 516.2,174.4 519.3,173.7 519.0,175.8ZM532.8,195.5 533.3,194.3 535.7,194.7 536.5,195.7 535.9,198.1 533.8,198.5 532.5,197.6ZM581.8,188.7 580.9,190.2 580.0,190.4 579.0,189.6 579.4,188.1 580.7,187.5 581.7,187.7ZM586.7,201.0 586.0,202.3 583.7,202.8 583.3,201.3 584.5,200.2ZM527.2,169.1 526.9,168.1 528.2,166.9 530.2,167.7 530.6,168.8 529.5,170.1 527.6,170.7ZM597.7,180.4 599.8,180.4 600.9,182.1 600.3,184.1 598.9,184.8 597.1,182.5ZM547.1,183.5 546.0,182.4 547.0,180.8 549.6,181.5 549.2,182.9ZM599.6,195.1 599.0,196.7 597.6,197.3 596.3,197.2 596.1,196.1 596.6,194.6 598.8,194.7ZM567.5,219.5 567.2,220.3 565.9,220.2 565.6,219.1 566.1,217.4 567.2,217.1 567.9,218.1ZM554.8,214.1 554.8,215.0 553.2,216.1 551.9,215.2 552.1,213.8 553.2,212.8ZM554.9,225.7 555.4,227.0 554.5,228.3 553.2,228.0 552.3,226.9 552.7,225.8 553.5,225.2ZM558.8,221.2 557.9,219.6 559.6,218.4 561.1,219.6 560.2,221.1ZM568.6,145.5 567.5,147.1 566.3,147.2 564.8,145.9 564.3,144.7 566.5,143.1 568.2,143.9ZM534.9,161.8 533.5,160.5 534.8,158.9 536.7,159.0 536.3,161.2ZM572.5,175.4 571.5,175.7 570.0,174.1 570.8,173.2 572.2,174.0ZM546.9,222.2 549.2,223.3 549.0,225.1 547.2,225.0 545.9,223.7ZM560.7,151.6 561.0,152.3 560.2,154.2 559.0,154.9 558.7,153.8 558.7,152.5 559.7,151.5ZM540.0,176.4 538.5,175.8 538.8,174.0 540.3,173.9 541.3,174.7ZM523.6,203.0 522.5,203.1 521.6,201.9 522.2,200.3 523.8,200.0 524.6,201.6ZM542.4,161.1 542.5,163.0 541.3,163.4 540.9,162.1 541.3,160.4ZM545.7,196.3 547.8,196.3 548.5,197.2 548.2,198.4 546.8,198.5 545.9,198.1 545.2,197.0ZM596.4,188.7 595.5,187.0 596.1,185.9 597.9,186.6 598.0,188.9ZM563.6,219.7 564.0,221.7 563.0,222.5 562.0,221.6 562.3,220.1ZM522.2,206.2 524.8,207.4 524.1,209.1 522.0,209.0 521.1,207.0ZM574.3,192.8 573.1,192.6 571.8,191.8 572.3,190.2 573.7,189.6 574.4,190.4 574.7,191.6ZM523.6,175.8 522.6,175.3 521.9,173.4 523.2,173.3 524.2,174.5ZM516.0,193.6 515.9,192.5 517.4,191.9 519.7,192.7 519.3,193.9 517.8,194.6ZM550.9,157.9 550.0,158.8 549.2,158.4 548.7,157.4 549.5,156.0 550.3,155.9 551.4,157.0ZM540.0,191.8 539.9,193.8 538.5,194.8 536.7,194.4 536.6,193.4 536.9,191.7 538.1,191.4ZM590.9,176.6 592.1,176.4 593.7,178.1 592.6,179.2 591.1,178.3ZM574.6,155.0 573.3,154.6 573.3,153.1 574.1,152.6 575.4,152.7 575.8,154.5ZM550.3,152.0 551.6,152.4 551.8,154.3 550.1,154.8 549.4,153.3ZM585.0,183.8 583.1,184.1 582.6,183.6 583.4,182.5 584.5,182.5 585.3,183.2ZM590.1,208.9 591.8,209.3 592.3,210.3 591.1,211.4 589.5,210.5ZM585.1,175.1 583.5,175.0 583.1,174.1 583.3,173.0 584.5,172.4 585.7,172.9 585.5,173.7ZM599.9,191.4 600.0,192.7 598.0,193.0 597.0,191.8 598.0,190.7ZM564.6,186.3 564.1,185.5 565.1,184.5 566.5,184.4 566.8,184.9 565.8,186.2ZM526.5,189.0 527.1,188.2 528.1,187.8 528.9,188.7 528.4,189.7 526.8,189.9ZM545.9,213.3 547.2,213.9 546.7,215.4 544.8,215.6 544.5,214.5ZM563.6,212.3 563.6,211.0 564.1,210.6 565.2,211.0 565.2,212.3 564.7,213.0ZM563.6,159.6 564.2,160.8 564.0,161.9 562.3,162.1 561.1,160.8 562.3,159.6ZM571.4,161.0 570.3,160.5 570.7,158.9 572.4,159.0 573.3,160.2ZM542.5,151.0 543.9,151.3 544.3,152.1 543.8,152.9 542.6,151.9ZM556.2,185.5 556.8,184.4 558.1,184.7 558.6,185.8 557.4,186.8 556.0,186.3ZM569.0,168.3 567.9,169.3 566.9,169.0 566.6,168.4 567.1,167.0 568.5,167.0 569.2,167.1ZM574.3,184.2 573.5,183.2 574.1,181.4 575.7,181.1 576.3,182.0 575.8,183.4ZM561.4,184.0 561.8,182.8 563.6,182.8 563.7,183.9 562.4,184.9ZM576.6,173.7 577.3,172.2 578.1,172.0 578.9,173.4 578.3,174.6 576.9,174.6ZM558.0,203.2 559.1,203.0 559.9,203.6 559.0,205.3 557.9,205.8 556.8,204.5ZM537.8,171.9 538.3,172.5 537.8,173.8 536.7,173.8 536.9,172.7ZM579.2,167.0 579.0,167.9 577.5,168.2 577.1,167.1 578.3,166.7ZM595.9,178.3 597.4,177.9 598.0,179.0 597.4,179.7 596.2,180.0 595.5,179.0ZM521.1,164.0 522.7,163.3 523.3,164.4 522.9,165.7 521.5,165.6ZM529.2,175.9 529.4,174.5 530.3,174.4 530.7,175.8 530.2,176.9ZM572.8,208.8 572.9,209.5 572.2,209.9 571.0,208.7 570.9,208.1 571.6,207.8ZM580.9,203.0 581.5,202.8 582.4,204.0 582.2,204.7 581.4,204.7 580.7,203.8ZM549.9,216.0 549.0,217.4 548.1,216.8 547.9,215.0 549.6,214.9ZM580.0,159.8 580.9,160.2 580.9,161.0 579.9,162.3 579.2,161.9 578.9,161.5 579.5,160.4ZM556.7,188.6 557.5,187.9 558.3,188.0 558.8,188.5 558.3,189.3 557.5,190.0 556.8,189.5ZM529.5,210.3 530.1,210.4 530.7,211.2 530.2,212.3 529.6,212.3 529.1,212.1 528.7,210.9ZM582.8,193.5 581.8,193.4 580.7,192.7 581.1,191.4 582.6,191.2 583.3,192.0ZM549.5,193.4 549.4,194.2 548.3,194.8 547.6,194.6 547.4,193.5 547.9,192.7 548.7,192.7ZM558.3,150.7 557.7,151.6 556.4,151.0 556.7,150.1 558.3,150.0ZM566.7,204.4 566.0,205.6 564.7,205.6 564.2,204.8 564.8,203.5 566.6,203.7ZM543.0,205.0 543.9,206.4 542.9,207.8 541.7,207.0 541.9,205.7ZM571.3,211.6 571.4,212.8 570.2,213.0 569.5,212.2 570.4,210.9ZM574.4,159.5 573.7,158.9 574.9,158.0 575.7,158.5 575.2,159.5ZM563.4,156.7 564.0,156.3 565.1,156.5 565.7,157.3 565.5,157.8 564.6,158.1 563.9,157.6ZM521.5,193.0 522.3,192.4 523.4,192.3 523.3,193.5 522.1,194.2ZM536.2,186.0 535.0,186.5 533.7,185.7 534.4,184.5 535.9,185.1ZM528.2,155.2 529.3,154.9 529.3,156.0 528.5,156.6 527.9,156.3ZM580.9,211.8 579.8,211.4 580.0,210.5 581.0,209.7 581.4,210.2 581.8,211.3ZM593.2,204.3 594.1,204.5 594.6,205.3 594.4,206.2 593.6,206.6 592.7,206.1 592.7,205.5ZM539.7,177.5 539.5,178.2 538.4,179.0 537.5,178.5 537.3,177.5 538.0,177.0 539.2,177.0ZM551.4,147.2 551.3,148.4 550.2,148.5 549.3,147.8 549.3,146.8 550.9,146.3ZM591.2,168.4 591.1,169.0 590.1,168.6 589.5,168.0 589.9,167.0 590.5,166.8 591.4,167.2ZM587.7,177.9 587.0,179.0 586.4,178.8 586.1,178.2 586.2,177.1 587.0,176.8 587.6,177.0ZM562.6,168.5 563.2,168.4 564.0,169.4 563.6,170.2 562.5,170.5 561.9,169.6ZM556.7,161.3 555.9,161.6 555.5,160.7 555.6,159.6 556.5,159.1 557.3,159.6 557.3,160.6ZM534.1,219.1 534.7,218.3 535.6,218.7 535.9,219.6 535.4,220.6 534.7,220.2ZM588.7,200.3 588.1,200.9 586.9,200.9 586.9,199.7 587.2,198.9 588.3,198.9 589.0,199.6ZM536.3,199.2 536.6,199.8 537.2,200.7 536.4,201.4 535.7,201.5 535.2,200.4 535.3,199.9ZM571.7,187.6 572.3,186.9 573.3,187.2 573.4,188.0 572.8,188.7 572.0,188.4ZM522.2,183.3 522.7,182.6 523.4,182.7 524.0,183.1 523.9,183.8 523.1,184.5 522.6,184.2ZM559.9,144.1 559.9,144.9 559.5,146.0 558.3,146.1 558.4,144.8 558.7,144.1ZM544.1,169.7 544.4,169.4 545.3,168.9 546.0,168.9 546.0,169.7 545.1,170.3 544.5,170.2ZM548.4,163.2 549.2,162.7 550.4,162.5 550.5,163.4 550.1,163.9 549.1,164.5 548.7,164.0ZM538.5,221.5 538.3,222.2 537.5,222.3 536.9,221.8 537.0,220.8 537.4,220.2 538.3,220.6ZM533.7,166.8 534.7,165.7 535.6,165.8 535.7,166.4 535.3,167.2 534.4,167.3ZM528.3,214.2 529.3,214.9 529.0,216.1 527.8,216.3 527.0,215.8 527.5,214.8ZM564.5,222.6 565.2,223.4 565.0,224.7 563.6,224.5 563.3,223.4ZM536.7,212.7 536.4,213.6 535.3,213.1 535.3,211.9 536.6,211.7ZM518.2,173.0 517.5,172.2 517.6,171.5 518.8,171.1 519.3,171.4 519.0,172.6ZM556.2,193.9 555.7,193.6 555.9,192.8 556.7,192.2 557.5,192.8 557.0,193.7ZM570.4,215.8 570.2,214.9 570.5,214.0 571.3,213.9 571.8,214.7 571.6,215.7ZM554.0,169.8 553.4,170.7 552.7,170.2 553.1,169.1 554.1,168.7ZM523.8,189.1 524.0,188.2 524.9,187.8 525.8,188.4 525.7,188.9 524.8,189.5ZM569.5,150.9 570.0,150.2 571.2,150.8 571.2,151.7 570.0,151.7ZM575.2,222.9 574.6,223.3 573.8,222.8 573.9,221.7 574.7,222.2ZM563.7,190.7 563.1,190.7 562.6,189.9 562.9,189.4 563.9,189.1 564.3,189.9ZM561.6,212.3 562.5,213.0 562.4,214.0 561.0,213.5 561.0,212.6ZM532.4,166.8 532.3,168.0 531.4,168.4 530.9,167.6 531.5,166.3ZM530.9,186.7 530.6,187.5 529.9,188.1 529.1,187.7 529.2,187.1 530.2,186.4ZM557.8,216.6 558.3,215.9 559.3,216.3 559.4,217.2 558.5,217.5ZM527.3,177.6 526.7,177.5 526.1,176.5 527.0,175.9 528.0,176.2 528.1,177.0ZM578.3,204.0 577.7,203.4 578.1,202.7 578.8,202.3 579.7,202.5 579.6,203.4 579.0,203.9ZM549.7,227.1 549.8,226.2 551.1,225.8 551.4,226.4 551.0,227.4ZM562.0,170.9 561.9,171.5 561.7,172.2 561.1,172.3 560.4,171.6 560.7,170.6 561.5,170.5ZM542.9,158.9 543.8,157.9 544.7,158.2 544.5,159.1 543.9,159.5 542.9,159.5ZM556.7,148.9 556.2,148.9 555.9,148.1 556.5,147.6 557.3,147.2 557.9,147.8 557.6,148.4ZM572.0,199.1 572.9,200.2 572.3,200.9 570.8,200.2 571.2,199.1ZM589.7,187.8 590.1,186.8 591.1,186.3 591.7,187.0 590.8,187.9ZM560.2,160.3 560.3,160.8 560.0,161.6 559.4,162.0 559.0,161.8 559.0,161.1 559.4,160.5ZM551.3,179.7 551.8,180.1 552.3,180.8 552.4,181.4 551.8,181.5 551.1,181.2 550.9,180.3ZM552.3,198.4 553.5,198.3 554.1,198.9 553.7,199.7 553.0,200.1 552.3,199.4ZM550.0,186.1 549.6,185.3 550.1,184.4 550.6,184.5 550.7,186.0ZM534.0,155.7 535.2,156.0 535.7,156.8 535.2,157.5 534.1,157.4 534.0,156.5ZM555.1,168.7 555.9,167.9 557.1,168.3 556.9,169.1 555.8,169.6ZM573.2,223.5 573.3,224.4 572.1,224.9 571.6,224.6 571.4,223.8 572.2,223.3ZM555.0,180.3 554.5,180.8 553.8,180.7 553.5,179.7 553.7,179.0 554.1,179.1 554.9,179.8ZM527.0,182.1 526.6,183.1 525.6,182.9 525.3,182.4 525.6,181.3 526.5,181.2ZM545.9,206.2 545.4,206.6 544.7,206.5 544.8,205.7 545.2,205.2 546.1,204.9 546.4,205.6ZM551.3,206.4 550.7,205.7 551.4,204.9 552.1,205.0 552.1,206.0ZM556.5,225.0 557.1,225.7 557.1,226.8 556.3,226.6 556.0,225.6ZM561.2,144.0 561.9,143.5 562.3,144.1 562.0,145.1 561.7,145.3 561.2,144.7ZM536.3,206.0 535.7,206.2 535.0,205.7 535.3,205.1 536.1,204.9 536.9,205.1 537.1,205.7ZM568.4,171.0 569.0,170.0 569.7,169.6 569.9,170.1 569.6,170.9 569.0,171.2ZM543.0,145.5 543.8,145.6 544.3,146.5 543.6,147.3 542.8,147.0 542.3,146.5Z"/><circle cx="653.4" cy="209.8" r="52.6" fill="url(#por)"/><path fill="#546cbd" stroke="#546cbd" stroke-width="0.7" stroke-linejoin="round" d="M674.9,208.8 676.8,208.7 677.0,209.9 675.4,210.5 673.1,210.3 673.7,209.2ZM662.0,248.7 658.3,247.8 657.5,245.3 659.6,243.4 663.6,243.9 664.4,246.4ZM623.3,217.5 623.1,218.6 622.4,220.2 620.1,221.2 619.3,220.4 620.2,218.5 621.6,217.5ZM655.8,193.4 656.7,196.6 653.2,197.5 651.0,195.6 653.1,192.9ZM623.8,199.0 624.6,195.8 628.2,194.4 629.8,197.4 627.8,199.2ZM666.0,170.2 666.8,172.3 664.2,176.5 661.5,175.1 659.8,172.4 662.8,168.5ZM648.1,184.5 646.6,182.1 647.6,179.1 650.3,179.3 652.1,181.1 650.8,185.3ZM683.6,204.2 682.0,203.2 681.5,200.7 682.9,199.9 684.5,200.8 684.5,203.0ZM655.1,244.6 656.4,246.2 655.9,247.5 654.7,247.4 653.6,246.4 653.1,244.6 654.4,244.4ZM685.1,214.4 686.5,213.0 688.1,213.1 688.6,214.3 686.6,215.2ZM647.2,202.9 646.0,200.2 647.8,199.4 651.5,202.2 650.2,204.4ZM655.8,186.4 654.5,188.1 651.9,187.2 652.2,185.7 653.6,183.9 655.2,184.7ZM648.1,237.5 647.4,240.4 645.1,240.9 643.2,238.0 643.5,235.8 646.2,235.6ZM658.4,208.0 660.2,207.8 663.2,208.8 662.6,211.7 661.4,212.5 659.0,212.3 657.0,209.4ZM622.0,207.2 622.0,204.4 624.4,204.0 626.3,204.3 627.3,206.5 625.6,208.9 623.6,208.8ZM648.3,195.4 646.0,198.4 641.8,196.9 643.4,192.9 646.7,191.6ZM643.9,183.2 643.1,186.4 641.1,186.8 639.9,185.4 640.2,181.8 642.0,181.5ZM652.2,170.7 653.3,175.3 651.6,177.1 648.3,174.6 649.0,170.6ZM694.9,196.7 692.8,199.2 690.4,198.1 690.0,194.7 693.7,193.7ZM635.5,233.6 635.4,236.3 634.1,236.8 633.5,235.2 634.5,233.6ZM687.4,235.6 684.5,235.8 683.2,234.5 685.9,233.0 688.6,233.8ZM639.2,205.6 636.9,204.6 636.6,201.8 639.0,201.7 640.4,203.7ZM661.1,238.6 659.4,237.1 658.7,234.3 660.2,233.1 662.1,234.6 662.9,237.3ZM635.7,180.3 634.9,182.9 630.6,183.8 628.3,183.0 629.2,180.9 632.1,179.4ZM687.2,185.7 685.8,188.7 684.3,189.6 682.3,187.6 681.9,184.5 685.7,184.6ZM626.4,225.9 624.9,226.1 623.9,224.9 624.7,224.2 626.3,223.4 627.3,223.7 627.6,224.8ZM664.3,178.3 665.6,179.9 666.0,184.3 662.6,185.1 661.0,182.8 661.0,178.3ZM641.5,222.4 639.9,225.2 637.0,223.8 636.8,218.9 639.6,218.3ZM673.3,229.2 673.5,231.3 670.9,231.3 668.6,229.4 669.7,227.7ZM639.4,228.6 640.6,228.8 641.8,230.3 640.9,232.6 639.2,233.3 638.3,231.9 637.7,230.9ZM670.1,189.5 671.1,190.5 670.7,191.7 669.5,192.7 668.5,192.6 668.0,191.2 668.5,189.9ZM651.0,218.1 650.8,221.1 647.9,221.2 646.0,219.3 645.3,217.4 648.8,217.2ZM673.1,239.2 673.0,242.0 670.0,244.0 667.6,242.1 668.7,239.6ZM660.8,227.3 662.1,229.2 661.5,231.3 660.1,232.1 658.1,230.4 658.1,228.2ZM657.4,203.2 655.9,203.6 654.8,203.2 654.1,200.5 655.3,198.9 656.4,199.1 657.4,200.4ZM675.2,196.4 674.3,195.3 676.1,193.3 679.1,193.2 679.9,194.2 679.8,195.5 676.9,196.6ZM637.6,181.2 635.5,179.6 635.3,176.8 637.6,175.5 639.1,177.1 639.5,180.1ZM619.9,204.3 621.5,206.7 619.5,209.4 616.6,209.6 615.2,206.8 616.1,204.0ZM681.8,221.6 683.2,217.7 685.9,220.6 686.2,223.2 684.2,225.8ZM633.5,193.7 631.5,194.7 630.8,194.6 630.4,193.4 631.8,191.3 633.3,190.6 633.8,191.8ZM616.0,218.9 613.4,217.1 613.6,215.1 616.0,214.3 617.8,217.4ZM656.7,225.7 653.8,227.3 650.3,223.8 651.6,221.3 654.6,220.5 658.1,224.0ZM627.4,191.0 625.9,192.0 624.0,190.4 625.1,189.1 627.3,189.3ZM680.1,234.2 676.8,236.8 673.7,234.7 675.3,231.4 677.9,230.2 680.0,231.3ZM674.1,224.9 673.7,223.7 674.9,221.4 677.2,221.3 677.5,223.6 676.2,225.1ZM626.8,215.8 625.7,213.3 628.3,211.5 630.4,214.0 629.4,216.1ZM650.6,209.8 653.1,208.8 654.5,211.8 653.6,213.4 651.6,213.6 650.0,212.0ZM633.6,204.4 635.6,206.5 635.1,208.5 632.4,209.3 630.3,206.8 631.5,204.9ZM660.5,203.0 662.5,200.0 664.1,199.5 667.4,200.7 666.9,203.2 664.8,205.5 661.5,205.2ZM683.4,212.2 682.4,209.8 683.2,208.8 684.6,208.2 686.5,209.4 685.9,211.3 684.8,212.4ZM642.1,208.2 641.0,206.8 641.4,205.6 642.7,205.6 643.3,206.6 643.3,208.2ZM665.2,248.2 666.4,246.3 668.0,246.6 668.5,249.0 666.7,249.5ZM676.3,218.2 677.1,217.0 678.8,216.3 679.8,217.5 679.2,218.7 677.5,220.0 676.1,219.4ZM672.2,183.3 670.3,182.0 671.0,179.3 673.2,178.1 676.0,180.7 674.8,183.1ZM665.6,207.9 667.2,206.6 668.8,206.8 669.7,208.9 669.4,211.5 668.3,212.1 666.0,211.4ZM636.0,199.6 634.5,196.3 635.7,194.0 636.5,192.7 638.7,194.4 639.3,196.5 637.2,199.7ZM646.1,248.4 645.2,246.3 646.3,243.9 647.5,245.1 647.5,247.2ZM628.6,220.0 628.6,217.8 631.1,217.3 633.0,219.7 631.9,221.7 629.5,221.3ZM690.3,226.1 691.3,226.1 691.5,228.0 690.6,229.6 689.3,229.5 688.5,227.6ZM674.8,184.4 676.0,184.6 676.7,185.8 675.3,188.2 674.0,188.3 672.6,187.5 673.1,185.0ZM641.1,248.4 638.9,248.0 638.7,245.1 640.4,243.3 642.8,243.4 643.3,245.7ZM636.0,212.9 637.9,212.3 639.8,213.6 638.5,216.0 636.5,216.6 635.0,214.3ZM677.8,204.7 679.0,205.2 680.2,206.7 680.1,207.9 679.4,208.1 677.5,206.6 677.4,205.4ZM682.4,230.6 680.8,230.4 680.6,228.9 681.2,227.9 682.9,227.2 683.8,228.1 683.9,229.7ZM644.3,172.9 645.4,175.0 645.0,176.4 643.0,177.5 641.1,176.0 642.2,173.2ZM691.2,200.8 693.6,202.9 690.7,205.4 687.5,204.0 688.5,201.5ZM634.3,224.0 634.2,225.7 632.9,226.5 632.1,225.6 632.2,222.6 633.2,222.5ZM687.3,190.1 689.1,188.5 690.5,188.0 691.3,188.9 691.1,190.3 689.4,191.2 687.5,191.7ZM681.8,213.2 680.2,213.8 679.0,213.5 677.8,212.6 678.3,210.9 680.0,210.6 681.4,211.7ZM625.0,181.3 625.4,182.8 623.4,184.8 620.8,184.6 620.4,183.2 621.5,181.9ZM622.4,232.0 620.6,231.4 621.0,229.0 622.6,227.4 623.9,226.9 625.4,228.7 623.9,231.6ZM684.1,191.2 685.2,192.5 684.0,194.3 682.5,194.2 681.4,192.6 682.3,191.0ZM642.8,227.0 642.6,223.3 644.0,222.8 645.9,224.7 645.3,226.3ZM696.1,213.9 693.1,213.9 692.6,211.7 694.2,209.3 696.6,210.8ZM669.3,198.7 668.3,199.2 665.8,199.3 665.7,197.4 666.3,196.3 667.8,195.3 669.5,195.7ZM657.3,239.5 656.9,240.5 655.6,240.9 654.5,239.7 655.0,238.7 656.3,237.8 657.5,237.7ZM620.4,195.1 621.8,196.9 620.2,199.9 618.3,201.0 615.9,198.6 616.6,195.9ZM659.9,192.2 663.7,193.0 664.0,196.1 660.2,196.6 657.1,194.5ZM654.9,254.0 652.3,252.4 651.7,251.5 652.3,249.2 655.4,249.1 655.7,250.6 656.0,252.2ZM654.7,215.5 654.7,214.0 656.3,212.8 657.6,213.8 657.6,215.7 656.9,217.0 655.4,216.7ZM689.2,218.9 690.1,216.9 692.4,216.2 694.7,219.0 692.6,221.1 690.5,221.1ZM656.8,235.3 654.5,236.9 652.0,235.6 651.2,232.7 652.5,230.9 655.2,229.8 657.4,232.3ZM682.1,178.1 680.2,180.7 677.9,178.7 678.5,175.6 680.6,175.9ZM663.8,218.2 662.5,219.3 660.5,218.6 659.6,217.4 660.5,215.9 662.4,216.0 663.5,217.1ZM658.1,175.1 656.4,175.0 655.5,174.3 656.0,172.5 658.2,172.3 659.3,173.2ZM639.5,187.2 639.4,188.6 638.4,190.1 636.0,191.4 635.5,190.0 635.6,188.9 637.3,187.3ZM657.3,176.9 658.4,176.9 659.8,176.8 660.3,177.8 659.7,178.9 657.4,179.2 657.0,178.4ZM630.8,239.7 628.4,239.1 626.6,236.8 628.1,235.2 629.8,234.9 631.8,236.4 632.6,238.4ZM626.8,201.2 628.7,200.3 630.3,200.8 631.2,202.6 630.3,203.6 628.1,203.6 626.8,202.7ZM622.0,210.5 622.5,212.7 621.4,214.4 619.7,214.6 617.8,213.2 617.9,211.8 620.0,210.4ZM668.7,217.5 668.5,213.7 671.0,212.3 671.8,215.0 670.4,217.9ZM615.2,198.7 613.5,200.8 611.6,199.8 611.0,196.8 613.2,195.9ZM667.6,232.5 669.4,232.7 669.3,234.5 667.7,235.5 666.1,234.4ZM648.3,190.1 644.9,190.1 643.8,187.8 645.2,186.1 647.8,186.6ZM666.4,221.3 669.3,219.8 671.7,222.5 669.9,225.1 666.6,224.1ZM670.6,205.5 669.0,201.7 671.7,199.4 676.0,201.9 675.6,204.9ZM641.8,215.0 643.9,212.5 646.2,212.2 647.6,213.9 645.1,215.5ZM618.7,225.5 617.1,226.5 615.2,225.2 615.8,222.9 617.1,222.2 618.7,223.8ZM680.3,183.9 679.5,182.2 681.3,180.9 682.6,182.1 682.1,183.9ZM662.6,240.4 664.6,239.0 665.9,240.4 664.9,243.1 663.0,242.6ZM610.8,212.7 611.2,210.2 612.7,209.1 614.3,211.0 612.9,213.3ZM653.8,178.7 656.0,179.5 656.2,181.1 654.3,181.8 653.3,179.8ZM630.3,233.1 627.8,231.3 628.3,227.8 631.0,227.1 633.1,229.2 633.1,232.3ZM681.4,238.9 680.1,242.7 677.9,244.3 675.8,242.4 677.8,237.8ZM632.7,240.8 634.5,239.9 636.2,243.5 635.3,245.3 633.2,245.0ZM622.0,193.9 619.3,193.8 618.9,192.3 619.9,190.8 621.4,190.3 622.8,192.2ZM642.4,231.2 644.9,228.6 648.2,229.1 648.5,231.7 644.5,233.9ZM652.8,240.9 651.0,243.1 648.4,241.6 649.0,238.8 651.6,238.2ZM649.1,207.1 648.2,208.8 646.9,208.9 646.5,207.7 647.0,205.2 648.1,205.1ZM667.5,179.0 665.7,177.9 667.6,176.2 669.8,176.7 669.0,178.7ZM687.3,194.9 688.0,197.0 687.1,198.8 683.9,198.3 683.2,196.8 685.2,195.1ZM677.8,188.5 679.8,187.0 681.0,187.3 680.8,188.9 678.9,190.5 677.4,189.8ZM656.1,191.5 655.1,190.2 655.0,188.8 655.9,188.1 657.2,188.5 657.4,189.7 657.2,191.0ZM678.9,201.4 677.4,199.6 678.0,198.1 679.5,198.4 680.5,200.0ZM635.6,201.9 634.1,202.9 632.8,202.7 631.6,200.8 631.6,199.8 633.8,199.3 634.7,200.1ZM637.0,208.2 638.1,206.8 639.1,207.3 639.7,208.9 638.3,210.6 637.3,209.4ZM668.6,187.0 666.8,187.9 665.6,187.0 666.9,185.2 669.0,185.5ZM660.9,221.6 663.1,222.3 662.3,224.8 660.2,225.0 659.3,223.0ZM629.5,176.8 627.9,179.5 625.0,178.1 624.4,175.1 626.4,174.6ZM671.1,174.1 669.7,175.3 667.8,173.9 667.8,172.4 669.1,171.9 670.6,172.7ZM642.3,170.8 641.5,171.8 639.8,172.0 639.2,169.9 639.6,168.9 641.0,168.6 642.4,169.8ZM641.6,237.6 641.6,240.5 640.3,241.5 637.6,240.6 637.6,238.8 639.8,237.4ZM663.3,190.2 661.2,189.7 661.3,187.0 663.3,186.4 664.2,188.9ZM687.8,207.2 689.9,206.3 690.6,207.9 689.1,209.0 687.4,209.2ZM622.5,238.5 622.4,236.2 624.0,235.3 624.8,236.1 625.4,238.2 623.7,239.5ZM657.5,207.8 655.0,209.1 654.0,208.1 654.1,206.2 655.9,206.2ZM615.4,230.9 615.5,229.7 618.0,229.1 618.3,230.6 616.8,231.4ZM613.0,224.0 611.4,222.4 611.2,221.0 612.1,219.9 613.8,221.0 614.4,222.7ZM656.1,170.4 655.3,170.2 654.9,168.8 655.9,167.7 657.8,167.3 658.5,169.0 658.2,169.8ZM633.9,173.5 633.4,175.6 631.8,176.1 630.1,174.8 629.8,173.4 630.6,172.0 631.9,171.8ZM620.8,187.2 621.7,187.6 620.9,188.6 619.3,189.2 618.5,188.9 618.6,187.8 619.2,187.2ZM674.1,195.3 674.0,197.0 672.0,197.1 671.3,196.0 671.9,194.7ZM650.2,189.9 651.6,188.6 653.2,189.0 653.0,190.8 651.1,191.7ZM649.3,227.6 651.2,227.3 651.9,228.2 651.7,229.5 650.1,229.5 648.7,228.6ZM676.9,215.4 676.3,215.8 674.5,216.0 673.5,215.3 674.2,214.3 675.5,213.8 676.3,214.5ZM666.7,226.1 665.6,227.8 663.5,228.0 662.4,226.8 663.2,224.8 665.0,224.9ZM693.7,209.1 692.8,208.2 692.3,206.7 692.9,205.5 694.4,205.2 694.9,206.2 694.7,207.9ZM613.3,206.2 612.2,206.4 611.0,205.1 610.8,203.8 612.5,203.2 613.9,204.1 614.1,205.2ZM619.9,224.8 620.6,223.6 622.7,223.2 623.1,225.1 621.9,226.4ZM631.5,189.6 630.4,188.6 630.4,187.4 631.9,185.9 633.7,186.5 634.2,188.3 632.6,189.8ZM642.1,202.3 641.6,201.5 642.2,200.4 642.7,199.4 643.4,199.7 643.6,200.9 642.9,202.6ZM616.7,191.2 617.7,193.3 614.9,194.6 613.3,192.4 614.1,191.0ZM643.6,248.0 644.9,249.7 644.6,252.0 643.1,252.1 642.2,250.5 642.6,249.3ZM674.7,177.5 673.3,177.0 672.9,174.5 673.1,172.0 675.5,173.0 676.5,174.0 676.5,176.4ZM628.0,242.4 629.4,241.0 631.0,241.3 630.8,242.9 628.9,243.6ZM666.0,231.6 664.8,231.9 664.2,231.3 664.4,229.7 665.4,229.3 666.4,229.8ZM666.6,213.4 666.0,215.6 664.8,215.3 663.5,214.2 664.2,212.4 665.7,212.6ZM679.8,227.0 678.3,227.8 677.0,227.0 677.6,225.8 679.7,225.7ZM648.5,168.4 647.6,169.8 646.3,170.2 645.7,169.5 645.8,167.8 646.5,167.2 648.1,167.1ZM682.8,204.6 684.4,204.8 685.5,205.7 684.6,207.2 683.2,207.9 682.2,206.9ZM672.5,245.6 673.4,244.6 675.1,244.1 675.7,244.9 675.2,246.6 673.8,247.1ZM656.9,219.9 656.2,219.1 656.5,218.2 658.3,217.8 658.7,219.1ZM626.7,219.6 627.4,221.3 626.6,222.4 624.8,221.4 624.3,220.4 625.5,219.1ZM644.5,180.5 644.2,178.6 644.8,177.9 646.2,179.2 645.8,180.8ZM672.9,236.1 672.4,236.8 670.5,236.9 669.8,235.5 670.1,234.6 671.8,234.7ZM618.3,234.2 619.4,232.0 621.1,232.3 621.3,234.9 619.8,235.8ZM638.8,225.2 639.2,226.7 638.2,228.2 637.2,228.3 636.3,227.7 637.1,225.8ZM673.3,191.9 672.9,189.6 674.4,189.1 676.4,191.0 675.2,192.4ZM683.1,239.2 682.1,238.6 681.8,237.3 682.6,236.8 684.1,236.8 684.6,237.9 684.5,238.6ZM692.7,222.4 693.9,221.9 694.4,222.3 694.7,223.3 693.7,224.2 692.6,224.0 692.2,223.4ZM657.1,186.2 657.0,184.5 657.8,183.9 658.7,183.9 659.4,185.6 658.3,186.7ZM631.3,212.3 631.5,210.8 632.4,210.0 633.2,211.6 632.4,212.9ZM640.9,235.2 640.6,236.5 639.8,236.4 638.8,235.4 638.9,233.7 640.2,234.2ZM688.6,223.3 689.9,222.2 690.9,223.0 690.5,225.1 689.1,224.8ZM651.9,216.6 653.7,216.9 655.1,217.9 654.2,218.7 652.7,218.6 652.0,217.5ZM680.4,196.9 681.1,195.5 682.1,195.0 682.3,196.4 681.8,197.3 680.8,197.6ZM683.6,215.3 683.5,216.7 682.7,217.8 680.9,217.1 680.4,215.6 681.4,214.8 682.4,214.6ZM628.4,188.1 627.4,188.1 626.6,186.9 626.9,185.8 627.8,185.8 629.8,186.8 629.7,187.7ZM650.2,249.8 649.6,250.5 648.1,250.6 647.1,250.0 648.1,249.0 649.1,248.9ZM632.6,215.9 631.5,215.5 632.2,214.7 633.6,214.6 634.0,215.7ZM663.7,236.8 663.9,235.8 665.2,235.6 666.3,236.1 665.9,237.7 664.2,237.9ZM650.6,206.1 650.6,205.2 651.5,204.3 652.7,204.3 652.8,205.1 652.6,206.6 651.8,206.7ZM622.7,202.9 620.7,202.2 621.2,200.9 622.8,200.9 623.5,201.8ZM640.6,190.1 641.7,188.9 643.0,189.6 643.3,191.3 641.5,191.9ZM637.4,171.5 638.9,172.3 637.8,172.9 636.3,172.8 636.2,171.8ZM647.7,225.3 647.1,224.1 647.3,223.5 648.5,222.6 649.2,223.0 649.5,224.3 648.6,225.7ZM617.4,202.0 616.9,203.1 615.7,203.1 615.0,201.8 615.3,200.9 616.7,201.1ZM634.4,211.1 634.7,209.6 635.6,209.2 636.0,210.3 636.0,211.1 635.2,211.8ZM673.3,217.8 674.2,218.0 674.8,218.9 674.7,219.6 673.4,219.7 672.8,219.0 672.4,218.4ZM688.9,211.1 689.8,210.7 690.8,211.9 690.3,212.9 688.8,212.7ZM653.2,168.6 651.6,169.7 651.3,168.6 651.7,166.9 653.2,166.0 653.7,167.0ZM688.6,229.9 688.9,231.6 688.0,232.0 687.1,231.2 687.6,230.1ZM670.5,185.9 671.6,186.2 671.9,187.1 670.9,188.2 669.5,187.2ZM623.6,232.8 624.7,232.2 625.9,232.6 626.5,233.6 625.2,234.5 624.2,234.1ZM633.0,197.4 632.2,198.3 630.8,198.4 630.7,197.3 631.6,196.5 632.6,196.5ZM665.1,191.4 664.8,190.1 665.2,189.2 666.4,188.8 667.0,189.7 666.9,191.0 666.3,191.4ZM660.9,240.0 660.8,241.4 659.7,241.3 658.7,240.2 659.0,238.9 660.2,239.0ZM623.6,214.0 624.5,214.4 624.6,215.0 624.2,215.7 623.0,215.7 622.6,215.1 622.9,214.5ZM666.1,194.0 665.5,193.2 666.4,192.6 667.4,192.8 667.9,193.6 667.4,194.1ZM629.9,207.9 630.7,208.8 630.4,209.6 629.5,210.3 628.5,209.9 628.3,208.6 628.5,207.6ZM666.3,243.2 667.3,243.7 667.6,244.5 667.4,245.0 666.6,245.3 665.7,244.4 665.4,243.3ZM651.5,246.4 650.0,246.3 649.2,245.3 649.6,244.3 651.1,244.4 652.1,245.1ZM624.9,211.9 624.2,211.1 624.1,210.3 624.6,210.1 625.7,210.8 625.9,211.4 625.6,212.1ZM648.0,234.1 648.6,233.7 649.2,234.6 649.3,235.4 649.0,236.2 648.4,235.9 648.0,235.2ZM617.5,221.8 616.5,220.7 616.2,219.9 617.1,219.7 618.4,220.4 618.2,221.3ZM645.6,242.3 645.4,243.3 644.3,243.5 643.8,242.2 644.6,241.4ZM637.4,184.9 636.6,184.5 636.5,183.0 637.1,182.5 638.1,183.4 638.0,184.6ZM640.2,210.2 641.2,209.4 642.4,209.8 642.3,211.0 641.5,211.6 640.5,211.2ZM644.9,203.3 645.8,203.8 645.3,204.9 643.7,204.9 643.6,203.8ZM678.1,183.7 676.9,183.7 676.4,182.6 678.0,181.9 678.8,182.9ZM658.3,205.3 657.8,204.3 658.4,203.5 659.9,204.2 659.5,205.3ZM636.3,229.7 635.3,230.0 634.5,229.9 634.7,229.2 635.6,228.7 636.1,228.8 636.6,229.4ZM639.3,192.8 639.1,192.0 639.4,191.7 640.4,191.6 641.1,192.4 640.7,193.2 639.8,193.3ZM634.8,238.1 635.7,237.8 636.5,237.9 636.9,238.5 636.3,239.2 635.4,239.3 634.5,239.0ZM676.9,202.2 677.8,202.0 678.0,203.2 677.6,204.1 676.8,203.4ZM624.8,187.6 624.0,187.8 623.8,187.0 624.5,185.9 625.4,186.7ZM654.1,242.9 654.1,241.9 655.0,241.2 655.4,242.0 654.9,243.0ZM673.0,247.2 672.4,248.1 671.1,248.3 670.4,247.8 670.8,247.1 671.8,246.4 672.5,246.6ZM674.1,238.3 673.8,237.4 674.4,236.8 675.1,237.3 675.5,237.9 675.3,238.8ZM687.3,227.6 686.9,228.0 686.3,227.9 686.0,227.2 686.2,226.0 686.8,226.1 687.2,226.6ZM644.0,220.1 643.0,219.1 643.0,218.1 644.5,218.0 644.9,219.2ZM666.2,216.5 666.9,217.3 666.5,218.1 666.0,218.5 665.0,217.9 664.8,216.8 665.1,216.5ZM645.4,172.0 644.6,172.3 643.9,171.6 643.9,170.4 644.7,170.1 645.3,170.3 646.0,171.0ZM630.2,190.2 629.6,190.7 628.7,190.8 628.1,190.0 628.5,189.6 629.4,189.2 630.0,189.6ZM648.7,242.5 648.1,243.5 647.6,243.7 646.7,243.0 646.5,242.3 647.3,241.5 647.9,241.8ZM635.1,216.9 635.5,217.5 635.3,218.8 634.7,218.7 634.0,218.4 633.8,217.6 634.1,216.8ZM651.4,199.3 651.9,197.9 652.8,198.6 652.9,199.5 652.0,200.0ZM668.5,182.4 668.9,182.1 669.7,182.7 670.4,183.7 669.9,183.9 669.3,183.7 668.8,183.2ZM649.0,197.2 649.6,196.4 650.5,196.3 651.2,197.2 650.3,198.0 649.5,197.8ZM664.5,251.5 663.5,251.7 663.0,251.0 663.7,250.2 664.9,250.3ZM648.0,192.3 647.9,191.5 648.4,190.8 649.1,190.7 649.5,191.0 649.7,191.7 649.1,192.3ZM636.6,231.6 636.6,232.2 635.9,233.1 635.3,233.2 635.3,232.3 635.6,231.8 636.4,231.1ZM616.6,212.8 615.6,212.5 615.3,212.1 615.5,211.5 616.2,211.7 616.9,212.0 616.9,212.6ZM626.0,180.8 626.6,180.3 627.1,181.1 627.5,181.9 626.8,182.5 626.2,181.9ZM649.3,215.0 649.0,214.1 650.1,214.2 650.5,214.9 650.1,215.4ZM669.8,237.8 668.6,238.0 668.2,237.6 667.9,236.8 668.2,236.6 669.1,236.5 669.9,237.5ZM655.0,229.2 654.8,228.3 656.1,228.0 656.6,228.7 656.3,229.5ZM672.1,210.7 673.0,211.2 672.8,212.0 672.2,212.5 671.4,211.9 671.6,210.9ZM625.1,217.7 624.8,217.1 625.3,216.8 626.2,216.8 626.8,217.4 626.5,218.0 625.6,218.0ZM682.5,233.5 681.8,233.1 682.0,232.2 682.9,231.5 683.6,231.9 683.6,233.2ZM635.7,247.3 635.6,248.1 634.3,248.6 633.8,248.1 634.6,247.0ZM680.5,209.0 681.4,208.5 682.2,208.9 682.2,209.9 681.1,210.2 680.4,209.9ZM619.3,227.1 619.3,227.8 618.2,228.5 617.5,228.1 617.8,227.4 618.6,226.6ZM686.8,205.8 686.2,205.7 685.8,205.2 685.7,204.4 686.8,204.0 687.5,204.5 687.8,205.2ZM629.7,205.0 630.2,205.9 629.6,206.8 628.5,206.3 628.4,205.1ZM686.6,191.7 687.5,192.0 687.3,193.0 686.4,193.5 685.6,192.4ZM644.8,210.2 644.2,210.0 644.2,209.0 644.8,208.6 645.7,208.9 645.9,209.4ZM625.7,201.0 626.0,201.8 626.0,202.4 625.7,203.1 625.1,202.8 624.9,201.9 625.2,201.0ZM629.0,193.5 628.8,193.8 627.6,193.2 627.5,192.6 627.7,192.2 628.8,192.5ZM639.9,174.2 639.8,175.4 638.7,175.4 638.1,174.9 638.5,174.0 639.4,173.4ZM626.0,184.0 626.3,183.6 626.6,183.3 627.6,183.7 627.7,184.1 627.3,184.7 627.0,184.7ZM649.8,186.2 650.6,186.7 650.6,187.3 649.9,187.5 649.3,186.9 649.2,186.0ZM641.3,198.2 640.5,198.1 640.1,197.1 641.2,196.8 641.7,196.9 642.1,197.9ZM642.3,227.4 643.0,228.3 642.4,229.2 641.6,229.3 640.9,228.2 641.4,227.5ZM675.0,227.8 675.8,227.1 676.6,227.3 676.6,228.3 675.5,228.5ZM687.5,200.4 687.5,201.3 686.5,201.7 685.6,201.0 686.2,200.3ZM679.7,192.3 679.5,191.4 680.6,191.4 681.0,192.3 680.6,192.9ZM689.2,193.3 689.4,193.6 689.4,194.4 688.5,194.9 687.9,194.5 687.8,193.7 688.3,193.1ZM641.0,179.0 641.7,178.7 642.5,179.9 641.7,180.5 640.8,180.1ZM657.7,182.6 657.3,182.5 657.0,182.2 657.4,181.3 658.0,181.1 658.5,181.1 658.4,181.7ZM640.9,215.4 641.6,215.5 641.4,216.6 640.8,217.0 640.0,216.6 639.7,215.7ZM623.6,193.5 623.7,192.7 624.1,192.5 624.8,192.8 625.2,193.8 624.6,194.0 623.8,194.0Z"/><circle cx="718.4" cy="271.7" r="44.8" fill="url(#por)"/><path fill="#546cbd" stroke="#546cbd" stroke-width="0.7" stroke-linejoin="round" d="M710.8,263.1 710.9,263.9 710.0,265.6 708.5,265.8 706.4,265.6 707.0,263.7 708.1,262.7ZM721.6,305.3 720.4,304.8 719.7,302.9 720.7,301.5 721.7,302.1 722.5,303.3ZM734.5,252.5 736.0,251.0 738.6,251.3 739.8,254.5 738.3,255.7 735.2,255.2ZM738.7,246.9 736.9,245.8 736.0,243.9 737.4,243.5 739.4,245.3ZM713.7,240.0 714.6,241.8 714.0,243.1 712.8,243.2 712.0,241.3 712.4,239.9ZM711.6,268.4 715.7,267.2 717.7,268.7 716.4,272.9 712.9,274.2 710.4,270.5ZM702.3,258.4 698.5,257.7 697.7,254.7 699.2,253.2 702.0,251.8 703.7,254.5 703.5,257.0ZM690.1,265.2 693.4,263.9 697.3,267.3 696.3,270.1 691.9,270.1ZM730.1,240.3 731.4,240.3 731.7,241.3 730.3,243.5 729.0,243.7 728.8,242.6 729.1,241.3ZM692.5,286.7 690.1,284.9 689.8,281.7 692.8,281.7 694.0,284.2ZM717.6,255.9 717.5,252.5 720.1,252.0 721.8,254.8 720.4,257.4ZM705.7,288.1 705.2,289.1 704.1,289.2 702.8,288.8 702.7,286.7 703.8,286.2 705.0,286.6ZM740.8,281.7 739.3,285.8 734.8,287.5 732.3,284.1 736.1,279.0ZM729.7,263.1 726.2,264.4 724.7,259.8 725.7,257.1 729.7,257.6ZM741.7,265.4 739.4,264.5 739.1,261.8 740.0,260.9 742.1,261.0 742.7,262.7ZM725.6,290.1 723.8,292.4 720.2,291.1 718.3,288.4 722.1,287.9ZM720.5,277.8 724.2,276.7 727.3,278.8 726.6,282.7 723.4,284.0 720.5,283.7 720.1,281.4ZM711.3,260.3 712.3,258.1 715.6,257.6 716.9,260.7 715.5,262.8 712.2,263.4ZM706.4,243.6 706.0,247.5 703.2,248.9 701.4,247.6 701.1,243.9 703.5,242.4ZM741.9,286.8 743.2,289.3 742.3,293.1 739.2,293.2 738.0,290.6 739.1,288.1ZM712.9,281.0 713.4,283.5 711.6,286.5 709.4,286.0 707.0,283.8 708.2,281.1 708.8,279.2ZM732.4,263.9 732.5,261.7 734.5,261.6 736.8,263.0 735.4,264.4 734.1,265.2ZM701.8,241.7 700.3,243.2 698.1,242.1 698.7,239.7 700.5,239.8ZM692.7,273.7 695.2,272.9 697.5,274.4 697.6,276.6 694.4,277.7 692.4,276.4ZM728.3,246.5 727.1,249.0 722.9,247.8 722.7,244.8 725.7,243.7ZM735.8,288.5 735.4,290.6 734.4,291.4 732.4,291.5 731.9,289.8 732.6,288.0 734.3,287.3ZM701.7,260.5 704.3,261.8 704.3,265.2 700.9,265.7 699.2,263.1ZM742.1,269.1 745.5,268.7 747.6,272.0 746.0,276.2 742.7,275.6ZM684.6,266.4 686.3,265.3 689.1,266.3 689.3,269.0 687.5,270.3 685.8,269.7 683.9,267.4ZM730.1,271.9 728.6,275.2 726.3,276.1 724.6,274.2 724.9,270.2 727.6,269.2 729.6,270.0ZM733.1,301.8 731.0,299.0 731.7,297.1 733.1,296.5 734.7,297.5 735.9,300.3 734.3,301.7ZM702.8,294.2 705.7,297.7 704.3,299.9 700.9,300.0 700.3,295.8ZM745.7,281.0 748.4,283.5 745.4,285.5 741.5,283.3 742.6,280.7ZM712.9,293.3 716.0,292.6 717.8,293.5 718.2,295.7 716.5,296.6 714.0,295.4ZM711.3,251.0 712.9,253.4 712.8,255.5 710.8,256.3 708.9,254.8 708.9,252.3 710.2,251.2ZM696.7,294.0 692.8,291.9 695.9,287.9 699.8,288.4 699.9,292.3ZM697.8,276.4 700.7,275.8 702.5,276.6 702.0,279.1 699.8,279.5 697.4,277.8ZM706.1,270.4 703.6,270.9 702.1,270.0 702.9,268.0 704.6,267.5 705.9,268.5ZM726.3,306.5 723.9,305.9 723.9,303.1 726.1,303.3 728.3,305.0ZM735.8,274.8 734.4,276.8 732.2,276.7 731.8,275.1 733.2,273.7 735.7,273.5ZM716.5,299.9 716.0,301.7 714.7,303.2 712.3,302.4 711.9,300.5 714.9,299.3ZM726.6,292.9 728.8,293.0 730.0,294.7 728.6,296.6 727.5,297.3 725.6,296.4 725.2,294.6ZM728.6,282.6 728.7,280.7 730.4,280.4 731.5,282.7 730.8,284.0ZM693.2,261.7 691.1,261.3 690.6,258.9 692.3,257.3 694.2,259.3ZM730.1,289.0 728.6,290.0 727.0,289.4 726.8,287.9 728.1,286.8 729.9,287.3ZM698.4,249.8 697.1,247.7 698.1,246.3 699.7,247.6 700.2,249.5ZM708.5,240.3 707.3,241.7 705.8,241.2 705.4,239.2 705.8,237.8 707.2,237.8 708.5,238.8ZM710.0,305.1 707.6,303.7 706.9,301.7 709.2,301.1 711.3,302.7ZM744.8,258.8 746.8,257.2 749.6,258.2 750.6,259.4 749.1,260.8 746.3,260.5ZM706.8,279.1 705.6,278.9 704.6,277.1 704.8,274.1 706.7,274.2 707.6,275.5 708.1,277.9ZM716.1,243.0 717.6,241.8 718.6,242.7 718.7,244.7 717.9,246.0 716.3,246.3 716.0,244.7ZM697.1,283.3 697.1,281.3 699.7,280.5 700.7,281.7 700.8,284.0 700.1,284.6 697.7,285.2ZM732.8,250.3 732.9,252.2 730.4,253.7 728.3,252.5 728.4,249.7 730.0,248.5ZM719.8,239.2 722.0,236.9 725.8,239.1 724.2,241.2 721.1,241.5ZM733.5,270.2 732.1,268.9 732.4,267.3 734.3,267.2 735.9,268.0 735.2,270.2ZM714.8,276.6 717.5,275.6 718.0,277.1 716.6,279.5 714.6,278.6ZM710.8,290.0 709.8,292.5 707.9,292.2 708.2,290.0 709.8,288.9ZM724.4,250.2 727.1,250.1 727.6,252.5 726.8,254.1 723.6,254.2 722.7,253.1ZM685.6,279.6 686.8,281.7 685.2,283.0 683.5,281.8 684.4,279.6ZM694.9,245.0 696.0,247.1 694.1,249.2 692.2,247.7 692.6,245.7ZM719.3,296.0 720.5,295.6 722.3,295.7 722.6,297.5 722.2,299.3 720.8,299.1 719.0,298.4ZM748.7,270.0 747.1,266.8 749.1,263.8 753.7,264.8 754.2,269.0ZM687.3,254.7 688.2,253.9 690.1,254.8 689.9,256.6 689.6,257.2 687.7,257.6 687.1,256.1ZM740.7,297.4 740.7,298.9 739.3,299.3 738.0,298.2 738.0,296.1 739.2,296.1ZM685.3,261.6 686.1,260.0 687.3,259.2 688.6,260.3 688.7,262.2 687.2,263.6 686.2,263.2ZM747.9,292.8 747.3,296.3 745.2,296.8 742.4,294.4 745.0,291.9ZM740.8,255.8 742.1,255.6 742.6,257.2 742.1,259.1 740.5,259.2 740.1,256.6ZM712.8,287.3 714.6,286.5 716.3,287.6 715.8,290.1 714.1,291.7 713.0,291.6 712.6,289.6ZM690.4,274.3 687.8,276.1 685.9,274.4 686.2,272.3 688.7,272.3ZM722.9,261.2 720.9,262.1 719.0,261.2 720.4,259.2 722.1,259.1ZM741.5,269.6 738.7,270.3 736.9,268.6 738.3,266.7 740.6,267.1ZM720.8,272.5 720.1,274.8 718.6,274.9 717.3,273.0 719.1,271.3ZM683.6,271.9 684.8,273.5 683.3,275.1 681.2,275.7 679.8,274.8 679.1,272.3 680.9,271.6ZM755.0,272.5 755.5,275.3 754.1,278.4 751.2,279.5 749.8,274.9 751.5,272.3ZM742.1,247.8 744.1,246.6 745.6,246.6 747.3,248.8 746.2,251.0 744.2,251.1 741.7,250.2ZM695.6,256.0 694.1,256.3 692.2,255.0 693.1,252.7 694.9,251.6 696.5,253.7ZM739.0,276.4 739.8,274.7 740.9,274.5 742.4,276.2 741.0,277.8 739.5,277.9ZM733.0,259.2 732.6,257.5 735.1,256.6 736.1,257.8 734.6,259.6ZM711.5,249.4 709.3,248.0 709.3,246.0 710.2,244.3 712.0,244.2 713.4,246.4 713.4,248.6ZM718.0,266.9 720.5,265.9 722.4,266.4 722.8,267.7 721.5,270.1 719.9,270.5 718.5,268.6ZM692.0,297.1 693.2,294.7 695.0,295.5 696.5,297.9 693.7,298.5ZM716.5,284.5 715.2,283.8 715.6,282.7 717.6,281.8 718.8,282.1 717.6,283.7ZM751.3,280.1 752.7,280.3 753.5,281.7 752.6,283.6 751.8,283.5 750.2,282.7 750.2,281.1ZM707.2,258.7 706.2,258.4 706.5,256.9 708.3,256.6 709.2,256.8 709.1,258.3ZM715.2,251.9 713.9,249.5 715.2,246.8 718.2,248.3 717.9,250.6ZM717.8,237.8 718.2,239.7 717.6,241.1 715.7,241.0 715.4,238.9 716.9,237.5ZM690.7,292.0 688.8,289.9 689.3,287.8 690.9,288.1 692.1,291.2ZM708.4,294.2 708.2,296.4 707.0,297.0 706.6,294.9 707.6,293.2ZM727.8,267.2 725.6,266.7 725.4,265.6 727.4,265.4 728.8,266.1ZM731.7,302.9 732.8,304.3 732.0,305.6 730.2,305.1 729.3,303.5 730.0,302.3ZM745.6,252.0 748.0,251.4 749.2,252.3 748.2,254.1 745.7,254.2ZM715.1,304.0 717.1,304.2 718.1,306.4 716.3,307.5 714.5,307.0ZM735.7,242.3 734.2,240.5 734.3,238.4 735.5,237.8 737.2,238.5 738.0,240.2 737.4,241.4ZM706.8,249.8 708.0,251.7 707.0,253.2 704.4,253.7 703.6,251.3 704.5,249.3ZM730.8,293.5 730.4,292.5 731.9,292.2 732.9,292.5 733.4,294.0 733.2,295.1 732.0,294.9ZM702.4,273.0 701.6,274.3 699.8,273.8 699.9,271.8 701.3,271.2ZM691.1,252.1 689.5,251.8 689.7,250.2 691.2,249.4 692.7,249.6 692.9,251.6ZM683.8,286.2 684.3,284.5 686.7,284.2 688.1,284.9 688.3,286.7 687.5,287.5 684.7,287.2ZM734.9,247.1 734.1,248.6 732.6,247.9 732.4,246.7 733.5,245.1 734.8,245.5ZM710.6,275.8 712.3,276.3 713.3,277.9 712.0,278.7 709.8,277.7ZM706.3,291.6 706.4,292.6 705.1,292.7 703.6,291.3 704.0,290.4 705.3,290.7ZM749.6,286.4 751.1,287.4 750.1,289.4 748.3,289.4 748.0,287.2ZM734.5,294.6 735.9,293.2 738.0,293.8 738.5,295.2 736.5,295.7ZM689.1,278.8 690.0,277.3 691.2,277.6 692.2,279.4 690.8,280.4 689.8,280.4ZM703.2,302.2 704.1,303.0 704.3,304.1 703.2,304.6 702.0,303.6 701.7,302.8 702.4,302.0ZM698.7,259.2 699.4,260.4 697.9,261.9 695.7,261.3 694.9,260.2 696.1,258.9ZM746.6,266.2 745.2,266.9 743.5,265.4 743.7,264.1 745.9,264.6ZM713.6,237.8 712.8,237.8 712.3,236.2 713.1,235.1 714.0,236.4ZM726.4,300.0 727.3,299.4 728.2,299.6 729.4,300.4 729.4,301.6 728.2,301.6 727.2,301.2ZM723.9,301.7 722.6,301.4 722.8,300.1 724.1,299.4 725.4,299.4 725.1,300.9ZM698.5,269.2 699.2,267.7 700.2,267.2 700.5,268.4 700.3,270.0 699.5,270.1ZM696.5,280.9 695.5,281.3 694.3,281.0 694.4,279.8 695.3,279.4 696.7,279.9ZM702.7,283.1 702.4,282.2 703.5,280.9 704.6,281.2 706.1,282.4 706.2,283.2 704.6,283.7ZM742.6,254.2 742.7,253.5 744.2,252.8 745.0,253.6 744.7,254.5 743.2,254.7ZM711.5,296.9 711.9,298.0 711.4,299.0 709.7,298.8 709.2,297.5 709.5,296.6ZM736.3,271.3 737.7,271.3 738.3,272.7 737.4,274.1 736.0,273.3ZM721.3,247.8 722.3,248.2 722.5,249.5 720.9,250.6 720.6,249.4ZM739.9,250.0 738.7,250.3 737.8,249.5 738.1,247.7 739.2,247.7 739.7,248.4ZM718.7,286.2 718.8,284.4 720.1,284.1 720.7,285.2 720.3,286.6ZM697.0,285.3 696.5,286.3 695.2,286.8 694.7,285.7 695.3,284.6 696.6,284.7ZM729.3,238.0 729.1,238.9 728.5,239.5 726.7,238.6 726.1,237.5 727.3,236.8ZM706.6,270.6 709.0,271.1 709.0,272.3 707.8,273.2 706.4,272.0ZM717.5,263.6 718.2,262.7 719.4,263.2 719.8,265.1 718.4,265.0ZM729.9,266.4 729.3,265.3 731.1,264.9 732.4,265.9 731.4,266.9ZM730.1,276.3 730.9,276.3 731.9,277.5 731.5,278.5 730.4,279.0 729.9,277.7ZM721.5,263.3 722.8,262.6 724.1,262.8 723.8,264.7 722.9,265.5 721.6,264.9ZM738.3,259.4 738.3,260.8 737.5,261.6 736.7,261.5 736.8,260.4 737.2,259.7 737.7,259.1ZM730.4,257.0 729.7,256.0 730.6,254.9 731.7,255.0 731.7,256.1ZM708.9,243.9 708.4,244.6 707.6,244.7 706.9,242.9 707.4,241.7 708.3,242.5ZM747.5,276.4 748.3,277.6 746.7,278.9 745.5,278.1 746.0,276.6ZM698.4,302.5 697.6,301.1 699.1,299.9 699.9,301.2 699.7,302.5ZM746.8,287.1 747.0,288.8 746.3,289.5 744.7,289.7 744.2,289.1 744.9,287.7 745.5,287.0ZM698.5,297.1 697.8,297.4 697.1,296.9 697.6,295.7 698.3,295.2 698.7,295.4 699.0,296.3ZM709.1,269.4 707.7,269.5 707.8,268.1 709.0,267.7 709.9,268.6ZM701.1,288.7 699.9,288.9 699.8,287.7 701.0,286.4 701.6,287.4ZM686.6,276.6 686.8,277.5 686.2,278.2 684.5,278.1 684.6,277.4 685.2,276.7ZM719.8,235.5 720.1,237.2 719.0,237.7 718.3,236.9 718.1,234.8 719.1,234.8ZM691.8,293.0 692.8,294.0 692.3,294.6 691.8,295.1 690.7,294.8 690.5,293.5 691.3,293.2ZM723.0,276.3 722.2,275.6 721.9,274.6 722.3,274.6 723.3,274.7 723.6,275.4 723.7,275.9ZM698.3,272.8 696.7,272.3 696.3,271.1 698.1,270.4 699.0,271.0ZM701.2,289.9 702.1,289.3 702.6,290.3 702.6,291.2 701.3,292.0 700.8,291.5ZM717.6,301.5 717.4,299.9 718.9,299.6 719.5,300.9 718.9,302.2ZM704.2,238.7 704.6,240.2 703.7,240.8 702.9,240.6 702.0,239.5 702.4,239.0 703.2,238.6ZM695.4,249.5 696.8,249.8 696.9,251.1 696.2,251.7 695.1,251.0ZM738.6,278.7 737.6,279.2 736.7,278.7 736.4,277.2 737.4,277.0 738.3,277.5ZM706.6,261.8 705.7,261.9 705.3,261.4 705.3,260.2 706.2,259.9 706.7,260.6ZM736.9,301.4 737.7,300.6 738.4,300.8 738.3,301.6 737.5,302.4 736.6,302.3ZM715.9,254.9 716.6,255.1 716.3,256.2 715.1,256.7 714.7,256.0 714.7,255.1ZM741.3,251.2 741.7,251.8 740.9,252.5 739.8,252.7 739.7,252.0 740.4,251.1ZM752.5,261.5 753.8,261.5 754.1,262.1 753.4,262.4 752.6,262.8 751.7,262.5 752.0,261.8ZM711.5,273.1 711.6,274.1 711.3,275.1 709.7,275.3 709.4,274.5 709.3,273.1 710.4,272.7ZM711.4,238.2 710.6,239.2 709.7,238.8 709.1,238.3 709.5,237.0 710.7,236.9 711.2,237.2ZM738.4,264.8 737.8,265.6 736.8,266.1 736.3,265.8 736.5,265.1 737.0,264.8 737.9,264.4ZM708.1,298.6 708.5,299.4 707.7,299.8 706.7,299.9 706.4,299.2 706.9,298.7ZM741.2,245.1 741.8,244.5 742.9,244.1 743.6,244.8 743.3,245.7 742.4,246.2 741.5,246.0ZM743.8,278.5 743.2,277.5 743.6,276.4 744.4,277.2 744.6,278.7ZM730.8,285.0 731.5,284.2 732.3,285.3 732.3,286.0 731.4,286.6ZM733.2,243.8 733.0,243.0 733.6,242.6 734.7,242.9 735.0,243.5 734.7,244.1 733.7,244.5ZM726.9,284.2 727.3,283.6 728.1,284.0 728.3,285.0 727.8,285.4 727.1,285.0ZM749.1,285.5 748.4,285.1 748.5,284.8 749.5,284.2 750.0,284.4 750.4,284.7 750.0,285.3ZM720.1,243.6 720.1,242.5 720.7,242.1 721.5,242.8 721.7,243.5 720.7,244.1ZM697.4,245.2 696.7,245.0 696.6,243.5 697.4,243.3 698.2,244.3ZM733.0,278.3 733.7,277.8 734.4,278.4 734.4,279.2 733.2,279.6 732.4,279.1ZM692.8,272.5 692.5,273.3 691.4,273.4 691.1,272.4 691.3,271.5 692.0,271.6ZM711.6,294.6 711.3,295.1 710.8,295.2 710.3,294.2 710.4,293.5 710.8,293.3 711.4,293.8ZM723.3,256.5 722.9,256.3 722.3,255.6 722.8,255.4 723.6,255.4 724.4,255.7 724.5,256.3ZM706.0,302.1 705.5,302.6 704.6,302.3 704.5,301.4 704.9,301.1 706.1,301.0 706.2,301.4ZM745.4,261.4 745.6,262.1 745.2,262.7 744.4,263.0 744.3,262.4 744.7,261.7ZM708.5,247.8 708.7,248.5 708.0,249.5 707.3,249.4 706.9,249.0 707.1,248.2 707.7,247.7ZM691.1,264.0 690.0,263.9 689.9,262.9 690.3,262.4 690.9,262.4 691.3,263.3ZM719.4,277.8 718.6,277.2 718.9,275.9 719.8,275.8 720.4,276.0 720.6,277.1 719.9,277.7ZM715.0,264.3 716.2,264.0 716.7,264.6 716.5,265.4 715.5,265.7 715.1,265.1ZM702.2,250.5 701.8,251.1 701.0,250.9 700.5,250.3 700.8,249.5 701.4,249.6 701.9,249.8ZM683.4,264.9 682.8,264.2 683.1,263.5 684.0,263.1 684.7,263.6 684.7,264.4 684.6,265.0ZM721.2,246.8 720.5,247.0 720.0,246.8 719.6,246.2 720.1,245.2 720.8,245.2 721.5,245.9ZM738.9,258.2 738.2,258.7 737.2,258.2 737.2,257.4 737.7,256.8 738.8,257.1ZM730.1,246.2 730.9,246.8 730.4,247.7 729.7,247.9 729.3,247.0 729.4,246.5ZM707.9,286.7 708.4,286.8 708.5,287.3 707.9,288.3 707.6,288.4 707.3,287.9 707.5,286.8ZM703.3,273.3 703.9,272.2 704.7,272.1 704.8,272.8 704.1,273.5ZM712.3,265.4 712.5,264.7 713.4,263.9 714.0,264.4 714.3,264.8 713.7,265.4 712.9,265.7ZM722.8,271.2 722.9,272.1 722.1,272.3 721.4,271.5 721.2,270.9 722.4,270.7ZM748.3,280.1 748.2,279.0 748.5,278.5 749.2,279.0 749.6,279.4 749.5,280.4 748.9,280.6ZM740.4,280.6 739.9,280.7 739.7,280.0 740.2,279.3 740.5,278.9 741.1,279.2 741.0,280.1ZM699.7,293.5 700.8,293.0 701.4,293.4 701.2,294.3 700.4,294.4 699.7,294.0ZM725.5,286.8 724.6,286.0 724.7,285.2 725.8,285.5 726.3,286.3ZM722.5,294.4 723.1,293.8 723.9,294.3 723.5,295.4 722.8,295.7ZM735.9,303.2 736.0,304.2 735.2,304.1 734.6,303.0 735.0,302.5ZM736.7,249.9 735.9,250.4 735.3,249.8 735.3,248.8 736.2,248.3 736.5,249.0Z"/><circle cx="754.6" cy="347.2" r="45.5" fill="url(#por)"/><path fill="#546cbd" stroke="#546cbd" stroke-width="0.7" stroke-linejoin="round" d="M767.5,319.5 769.4,320.6 769.4,323.5 767.9,324.9 765.1,324.9 762.8,321.9 764.2,320.8ZM726.0,339.1 726.7,338.2 728.7,338.3 729.7,339.6 729.1,341.3 727.9,341.6 726.4,341.3ZM769.6,341.5 770.9,342.3 770.9,344.6 769.5,345.8 767.4,345.8 766.1,344.4 767.0,342.4ZM737.5,359.5 739.2,358.1 743.3,359.2 742.6,361.2 740.2,362.4 738.0,361.8ZM753.9,348.4 749.9,347.5 750.6,344.2 754.6,343.7 757.2,345.0ZM750.2,352.0 749.0,354.8 745.4,354.5 744.5,351.5 746.7,348.6 749.3,349.9ZM762.6,341.3 761.9,343.8 759.9,343.4 758.1,340.8 759.8,338.9ZM743.8,366.7 745.5,368.7 744.0,372.3 740.5,372.5 739.7,368.7ZM765.8,331.0 765.5,333.1 763.3,334.1 761.5,331.6 763.0,330.0ZM731.3,327.5 728.8,325.8 729.1,324.3 731.9,323.9 732.1,325.9ZM743.8,379.7 742.3,377.4 744.8,374.5 748.5,375.5 748.8,378.0 747.1,379.5ZM763.8,377.5 765.2,379.1 765.2,381.1 762.9,381.8 761.7,380.9 761.8,378.3ZM738.5,335.8 738.1,337.9 734.6,337.1 734.1,335.3 734.3,333.2 737.0,332.2 738.4,333.5ZM769.2,365.0 768.1,364.1 768.7,362.4 770.4,360.9 773.1,361.5 773.7,362.7 772.5,364.4ZM780.7,339.3 783.7,338.4 786.3,341.1 783.5,345.8 779.3,345.5 778.5,341.8ZM771.5,369.9 772.1,368.2 773.6,367.6 775.2,368.9 775.0,370.8 774.0,371.9 772.7,371.5ZM758.5,355.9 757.3,353.7 757.6,352.5 759.5,352.7 760.3,353.8 759.8,355.8ZM753.8,325.5 755.6,326.5 754.4,330.1 750.7,330.0 749.9,327.7 751.1,325.4ZM782.3,363.4 784.2,361.4 785.7,363.0 785.9,365.4 783.9,365.9ZM782.2,353.1 782.1,350.1 784.0,349.1 786.9,351.7 787.0,353.4 785.5,355.6 782.8,355.4ZM753.8,338.7 751.6,340.2 748.2,337.5 748.9,334.6 751.9,332.4 753.8,334.4ZM733.3,347.6 732.3,344.8 733.8,342.2 736.9,342.1 737.7,344.1 736.1,347.1ZM736.1,367.6 736.6,369.5 734.2,370.3 731.2,367.4 730.3,365.3 732.1,364.3 733.5,364.7ZM767.1,334.9 767.7,337.9 766.2,339.2 764.6,338.2 765.1,334.8ZM761.8,347.2 762.3,345.3 764.4,345.2 764.6,347.2 763.9,348.6 762.4,349.5ZM777.1,341.9 775.0,343.6 773.8,342.5 774.4,340.0 776.1,339.5ZM742.0,324.1 739.6,321.9 739.1,316.7 741.9,316.8 744.3,320.1ZM761.0,366.1 761.0,364.7 762.8,363.6 764.3,363.8 764.4,365.0 763.9,366.3 761.7,366.8ZM772.5,323.4 773.8,324.0 774.2,325.4 774.1,326.3 771.7,325.9 771.2,324.8 771.1,323.4ZM723.1,354.4 722.2,353.2 722.1,350.7 723.4,350.2 725.6,350.3 726.9,353.0 726.0,354.4ZM760.7,369.4 764.6,370.3 765.9,372.3 763.8,376.3 760.8,375.5 759.4,374.3 759.7,371.0ZM732.4,356.3 735.8,355.1 736.0,358.1 733.1,359.7 730.6,359.5ZM724.5,360.7 723.2,359.6 723.8,357.8 726.6,357.7 726.8,359.4ZM744.2,329.9 742.2,329.9 740.9,329.1 741.0,327.8 742.8,327.4 744.3,328.4ZM772.7,333.8 773.9,333.4 775.7,333.6 775.6,335.4 774.0,336.1 771.8,335.5ZM759.5,316.4 758.5,318.7 755.9,318.8 755.1,316.1 756.8,314.3 758.9,314.2ZM746.8,360.0 749.4,358.5 752.8,361.1 752.2,364.8 748.9,366.7 747.3,365.1ZM722.4,334.1 722.8,330.7 724.5,328.4 727.9,329.3 728.2,331.2 727.6,333.8 725.6,336.1ZM776.2,352.0 778.1,352.6 778.9,354.0 778.2,355.7 776.5,355.5 775.8,353.4ZM757.0,323.6 758.8,323.9 760.0,325.9 759.5,327.4 757.7,327.6 755.8,326.6 756.1,324.7ZM778.2,321.5 779.7,320.9 781.5,322.7 781.3,324.6 780.2,325.3 777.7,325.4 776.9,323.9ZM746.2,314.1 748.5,313.6 750.3,315.2 749.2,317.2 747.3,317.0 744.8,315.9ZM754.0,375.4 755.8,377.1 754.3,379.6 752.6,380.6 750.4,378.0 752.0,375.3ZM782.5,332.6 779.1,333.6 778.7,330.3 780.5,328.7 782.9,329.2ZM779.8,369.7 782.1,369.6 781.9,371.8 780.1,374.4 778.7,373.4 778.4,371.5ZM769.2,352.5 769.6,354.9 766.1,356.0 764.3,354.3 763.1,351.6 766.2,351.0ZM744.8,342.9 741.9,344.7 739.5,344.5 740.4,341.7 743.6,339.5 745.1,340.2ZM733.3,378.3 735.5,376.7 737.0,375.3 740.0,376.6 740.7,379.0 738.2,379.8 735.2,380.5ZM722.9,345.8 722.0,347.0 719.3,347.9 717.8,347.1 719.1,345.2 721.4,344.5ZM758.6,380.2 759.9,381.7 759.4,383.8 757.7,383.9 756.2,382.0 757.1,380.3ZM774.4,346.0 775.9,345.3 779.8,347.6 779.4,349.3 778.0,350.2 775.0,349.0 773.6,347.7ZM780.0,337.1 778.6,339.1 776.1,338.6 776.2,336.6 778.4,335.8ZM791.5,347.4 788.3,347.8 787.2,346.2 788.3,343.6 791.4,343.0 793.1,345.5ZM774.8,361.5 776.2,359.0 778.1,358.8 781.3,360.7 780.0,363.3 776.7,363.4ZM785.3,360.3 784.8,358.8 786.9,356.2 788.8,355.9 789.6,358.0 789.4,360.2 788.4,362.0ZM731.3,349.7 733.5,349.2 734.0,351.3 733.1,352.9 731.0,351.9ZM739.7,330.4 735.6,331.4 734.4,327.9 735.7,325.5 739.5,327.8ZM755.9,367.5 757.2,367.5 758.4,369.3 758.7,370.5 757.3,371.7 755.3,371.2 754.6,368.9ZM737.6,352.9 736.1,351.8 736.4,349.4 739.3,348.5 740.8,349.9 740.2,352.4ZM758.4,359.9 760.9,359.5 762.3,360.5 760.1,363.1 757.9,361.9ZM743.9,335.3 744.5,337.2 742.7,338.5 740.7,336.5 740.0,335.1 741.7,333.7ZM783.7,336.8 783.0,334.9 783.4,333.7 784.4,333.0 785.8,333.2 786.3,334.7 785.4,335.8ZM774.1,373.8 775.2,372.2 777.0,372.9 777.1,374.6 776.7,375.9 775.3,376.6 774.0,374.8ZM770.8,379.1 768.8,379.8 767.2,378.6 767.0,376.9 767.4,376.0 769.6,375.3 771.6,377.1ZM775.7,328.5 776.4,330.7 775.1,332.5 773.4,331.6 772.3,329.8 773.4,328.4ZM760.9,317.0 759.7,314.9 762.3,313.3 764.2,314.2 765.2,315.5 763.2,317.2ZM763.6,358.8 764.7,357.8 765.9,358.2 767.2,360.0 766.5,360.6 764.7,360.2ZM749.6,369.3 751.0,368.6 752.3,370.3 750.9,371.9 749.2,371.1ZM748.7,322.5 749.5,319.9 751.9,320.3 752.5,323.2 750.9,323.8ZM758.7,321.6 758.9,319.7 760.2,318.8 762.3,319.5 762.7,321.3 761.0,321.8ZM728.0,369.7 724.9,369.6 724.1,366.7 726.8,365.3 729.3,367.1ZM757.1,334.7 754.6,331.0 757.4,329.8 759.5,330.8 760.2,334.2ZM723.8,335.9 724.4,340.3 721.8,341.9 718.5,340.4 719.8,336.3ZM725.4,346.4 728.0,342.7 729.8,344.8 729.2,348.1 727.4,349.1ZM785.1,329.5 784.0,328.9 783.4,327.6 784.4,327.4 786.6,327.7 787.7,328.5 787.1,329.3ZM730.4,336.2 732.2,335.6 733.6,337.4 732.2,338.9 730.2,338.5ZM770.0,332.8 768.5,332.4 769.0,329.5 770.5,329.2 771.4,330.9ZM740.2,356.1 739.7,354.5 740.7,353.0 741.9,353.6 743.2,355.4 742.5,356.2ZM770.2,317.9 767.7,318.5 765.7,317.5 765.5,314.8 767.4,313.3 769.6,313.9 771.1,315.3ZM767.5,369.8 765.3,369.8 764.2,367.8 766.5,366.5 768.1,367.7ZM734.0,324.5 733.0,323.2 733.0,321.8 734.6,320.5 736.2,320.2 736.8,321.7 735.7,323.8ZM771.1,372.9 769.5,374.2 767.9,372.8 768.0,371.2 770.9,370.5ZM728.4,356.4 726.9,356.3 727.7,354.4 729.4,353.5 730.0,354.0 729.4,355.8ZM756.1,366.2 755.0,365.4 754.3,363.9 755.1,362.4 756.9,362.5 757.7,363.6 758.3,365.1ZM752.5,358.9 751.6,356.9 752.7,354.4 755.3,355.8 755.0,358.0ZM772.4,352.5 774.0,353.2 773.6,354.8 771.9,356.2 770.9,355.3 771.2,353.8ZM749.8,343.1 747.7,344.1 746.5,342.7 748.0,340.7 749.8,341.1ZM776.9,366.4 778.0,365.4 780.0,365.9 780.3,367.7 778.3,368.6ZM790.6,338.2 789.6,340.4 788.6,341.7 786.4,340.5 786.6,337.7 788.9,336.8ZM757.4,351.1 756.7,349.4 758.0,348.1 760.2,348.6 760.0,350.5ZM756.4,311.7 756.6,310.4 758.6,310.1 759.6,311.4 759.2,313.4 757.5,313.4ZM771.9,320.2 773.3,317.0 776.5,317.2 778.2,320.1 775.3,322.1ZM740.9,311.1 743.0,310.5 744.7,313.2 743.2,314.8 740.7,313.9ZM746.9,326.6 748.1,327.2 748.4,328.8 747.1,330.4 745.9,329.7 745.6,329.1 745.4,327.6ZM757.7,374.9 759.3,375.3 759.9,376.1 759.0,377.6 757.7,378.1 756.4,377.7 756.5,375.6ZM749.7,381.0 750.7,380.5 752.1,381.1 752.2,382.2 751.4,383.7 749.6,384.1 748.6,383.1ZM757.0,321.1 756.9,322.7 755.0,322.7 753.7,320.9 755.2,320.0ZM770.5,336.6 771.3,336.3 772.3,337.1 771.9,338.0 770.2,338.5 769.1,338.2ZM738.5,316.9 736.5,317.6 734.6,316.9 735.3,315.0 737.5,314.6 738.3,315.5ZM753.4,317.0 753.9,318.9 751.8,318.5 750.7,317.3 752.1,316.1ZM727.7,364.2 726.3,362.9 726.5,361.5 728.0,361.7 729.2,362.8 729.1,364.5ZM730.3,372.4 731.8,372.5 733.2,373.9 733.1,375.0 731.4,375.5 730.3,374.9 729.4,373.7ZM731.9,330.8 732.7,332.4 732.4,334.4 731.3,334.0 730.2,332.8 730.6,330.9ZM756.3,338.1 758.1,338.6 757.6,340.5 756.5,340.8 754.6,340.2 754.8,338.8ZM737.9,341.3 736.6,341.5 736.7,339.9 737.7,339.2 738.9,339.6ZM743.8,350.3 741.7,349.9 740.9,348.1 742.5,346.6 744.4,348.2ZM760.1,338.7 759.6,337.7 759.5,336.0 760.1,335.6 761.5,335.4 761.9,336.9 761.6,338.1ZM719.3,353.3 718.4,353.3 717.9,351.4 718.6,349.9 719.8,350.2 720.4,351.8ZM753.3,311.2 751.9,312.7 750.0,312.1 749.3,311.2 751.3,308.7 753.2,309.0ZM791.4,353.3 790.7,355.0 789.6,354.8 788.7,353.5 789.0,351.9 790.1,351.6 791.4,352.3ZM761.7,324.8 763.5,325.4 763.9,326.4 762.4,326.9 761.1,326.8 760.5,325.9 760.8,325.0ZM744.4,323.7 745.7,322.4 747.2,324.4 746.0,326.1 744.7,325.5ZM752.2,352.4 752.6,350.7 754.6,351.0 755.2,352.1 753.1,353.1ZM720.0,355.9 720.5,354.5 721.2,354.2 722.8,355.0 722.8,356.0 721.9,357.0 720.7,357.1ZM746.5,359.0 744.9,359.1 743.9,358.2 744.2,356.6 746.3,356.0 747.5,356.0 747.5,358.0ZM747.1,331.5 747.9,332.0 747.7,333.6 746.8,334.5 745.3,334.1 745.0,332.5 745.6,331.9ZM768.8,356.6 770.6,356.6 771.1,358.5 769.5,359.3 768.0,357.9ZM723.5,364.9 722.5,363.2 722.8,362.3 724.2,362.2 725.2,363.2 724.6,364.9ZM767.7,328.3 766.3,329.9 764.7,329.3 764.5,327.0 767.3,326.8ZM727.8,325.1 727.0,326.3 725.6,327.0 724.9,326.5 725.0,324.8 726.2,323.7 727.3,323.8ZM747.9,345.3 747.3,346.5 746.2,347.3 745.4,346.7 745.5,345.4 746.9,344.9ZM763.1,356.7 763.0,357.9 762.2,357.8 760.8,357.0 760.8,355.9 761.9,355.7ZM786.1,346.3 786.7,347.6 786.3,348.5 785.3,348.9 784.6,348.0 784.7,346.4 785.5,345.6ZM729.6,318.8 731.1,320.3 729.5,322.3 727.7,322.2 727.5,319.7ZM771.1,347.9 772.0,348.8 770.6,349.6 768.9,348.8 769.1,347.7ZM720.5,357.4 721.3,358.1 721.6,359.2 720.9,360.3 719.6,360.1 718.9,359.1 719.4,358.3ZM742.8,363.7 743.2,362.4 744.3,362.1 744.9,362.6 745.2,363.4 744.3,364.6 743.2,364.4ZM741.2,382.6 740.3,381.7 740.7,380.3 741.6,379.7 742.6,380.4 743.1,381.0 742.3,382.8ZM753.7,373.5 753.2,372.8 753.4,371.5 754.0,371.2 755.1,371.6 755.2,372.7 754.7,373.5ZM747.9,337.5 747.6,338.9 747.1,339.6 745.7,339.5 745.9,338.5 746.0,337.8 747.2,337.3ZM748.6,372.7 747.6,373.6 746.5,373.3 746.0,372.2 746.4,371.1 747.2,370.7 748.1,371.5ZM738.2,372.3 737.4,373.7 735.8,374.0 735.2,371.7 736.7,370.9ZM749.4,375.0 748.9,373.9 749.7,372.7 751.1,373.6 750.9,374.6ZM775.6,357.3 775.2,358.2 774.1,358.4 773.5,357.6 773.6,356.6 774.7,356.3ZM731.2,329.4 730.0,330.5 729.0,330.3 728.8,328.5 729.4,328.0 730.7,328.4ZM778.8,327.6 778.6,328.6 777.4,328.9 776.5,327.9 777.3,326.8ZM784.0,359.7 782.3,359.1 782.2,357.9 783.0,357.1 784.7,358.4ZM733.0,340.4 733.8,338.9 734.5,338.8 734.9,340.2 734.0,341.4ZM752.2,368.6 752.1,367.7 752.8,366.6 753.7,366.4 753.8,367.4 752.8,368.7ZM765.6,341.4 765.2,342.4 764.1,342.8 763.5,342.1 763.8,340.9 764.6,340.8 765.3,340.9ZM746.4,368.6 745.8,367.3 746.9,366.8 747.8,366.9 748.4,367.9 747.7,368.6ZM727.8,352.1 728.2,350.7 728.7,350.3 729.6,350.7 729.7,352.0 728.7,352.5ZM738.6,347.1 737.9,346.4 738.1,345.4 739.5,345.4 740.3,346.3 739.6,347.1ZM774.1,376.3 774.1,376.9 774.2,378.2 773.3,378.4 772.6,378.2 772.3,377.3 772.8,376.3ZM725.9,341.9 725.5,343.1 724.1,343.1 723.6,342.0 724.3,341.2 725.3,341.2ZM740.4,366.3 739.7,366.9 739.1,366.7 738.5,366.0 738.5,365.1 739.2,364.6 739.8,365.1ZM782.1,368.9 782.1,367.9 783.0,367.2 783.6,368.1 783.4,369.3 782.7,369.5ZM770.1,326.0 769.9,327.2 769.1,327.7 768.5,327.6 768.7,326.3 769.2,325.4ZM766.4,346.5 767.2,346.8 767.9,347.2 767.9,348.4 767.3,348.7 766.1,348.5 765.8,347.6ZM728.5,358.1 729.2,358.7 729.7,359.9 728.6,360.3 727.7,360.1 727.2,359.3 727.5,358.5ZM730.5,342.4 729.9,341.4 731.2,340.5 732.0,340.7 731.9,341.7ZM781.7,348.6 781.7,347.6 782.9,347.1 783.5,347.9 782.8,348.7ZM740.6,326.0 740.0,325.0 740.5,324.2 741.5,324.0 742.0,324.9 741.3,326.1ZM740.7,333.5 738.8,333.1 739.2,331.9 740.2,331.5 741.0,332.1ZM743.5,331.4 744.3,332.4 744.1,333.1 743.1,332.7 742.6,331.9ZM775.8,365.7 776.3,366.3 775.8,366.8 774.8,367.3 774.3,366.5 774.2,366.0 774.9,365.6ZM737.8,324.6 738.0,323.5 738.3,323.2 739.2,323.2 739.6,324.0 738.7,324.9 738.1,325.1ZM734.1,317.4 734.5,318.0 733.9,318.9 732.4,319.1 732.1,318.4 732.1,317.5 733.2,317.0ZM789.8,349.5 790.0,349.9 789.4,350.9 788.6,351.1 788.2,350.6 788.2,349.9 788.8,349.3ZM760.6,345.3 760.5,346.4 759.7,346.9 758.9,346.9 759.2,345.6 760.1,345.0ZM771.3,341.6 770.6,341.0 770.8,340.1 771.4,339.3 772.1,339.6 772.2,340.5 771.7,341.6ZM767.3,373.3 767.8,373.7 767.3,374.8 766.7,375.2 766.4,375.0 766.1,374.4 766.9,373.4ZM762.8,350.8 762.5,352.1 761.9,352.6 761.4,352.4 761.4,350.8 761.9,350.4ZM728.2,370.2 728.9,370.0 729.7,370.1 729.9,370.9 729.2,371.9 728.5,372.1 727.8,371.3ZM735.6,362.6 735.4,361.6 735.9,361.3 736.8,362.2 736.9,363.1 736.4,363.1ZM780.1,350.3 780.7,351.1 780.3,351.6 779.1,351.2 778.9,350.3ZM753.5,314.9 752.7,314.5 752.6,313.8 753.1,313.1 753.8,312.9 754.3,313.7 754.0,314.7ZM747.1,320.8 746.1,321.4 745.5,320.7 745.8,319.8 746.6,319.2 747.2,320.0ZM768.9,368.8 769.5,368.1 770.1,368.3 770.2,369.4 769.8,369.9 769.4,369.6ZM741.5,374.2 741.9,375.2 741.3,376.2 740.3,376.1 740.0,375.0 740.4,374.2ZM772.8,351.8 771.6,351.1 771.9,350.3 772.8,350.1 773.5,350.6 773.4,351.5ZM758.5,366.4 759.9,365.9 760.6,366.8 759.9,367.6 758.8,367.5ZM772.9,375.3 771.9,375.5 771.3,374.8 772.1,374.4 773.0,374.5ZM781.1,334.7 781.7,334.7 782.2,335.3 781.8,336.3 781.1,336.6 780.2,336.1 780.4,335.4ZM777.6,333.8 776.7,333.5 776.4,333.0 777.1,332.7 778.1,332.9 778.6,333.5ZM783.7,326.0 782.7,326.6 782.2,325.9 782.4,325.1 783.3,324.7 783.7,325.4ZM756.6,359.8 756.8,361.0 756.1,361.1 755.3,360.4 755.5,359.4 756.0,359.3ZM780.6,354.7 781.2,355.1 781.1,356.0 780.8,356.5 780.1,356.6 779.3,355.8 779.8,354.8ZM756.7,372.7 757.5,372.3 757.8,372.5 758.1,373.2 757.9,374.0 756.9,374.0 756.5,373.4ZM750.1,356.7 750.2,357.6 749.2,358.2 748.5,357.4 748.7,356.5 749.5,356.2ZM772.9,343.5 773.8,343.9 774.0,344.5 773.2,344.9 772.2,344.9 771.8,344.3 772.2,343.9ZM770.6,320.5 770.0,320.6 769.5,319.7 770.0,319.0 770.9,319.2 771.4,320.0ZM737.9,354.5 738.3,354.9 738.6,356.2 737.9,356.3 737.3,355.9 737.2,355.0ZM766.2,364.7 765.4,364.4 765.3,363.2 766.2,362.9 766.7,363.6 766.7,364.6ZM741.9,366.0 741.0,365.6 741.5,364.7 742.5,364.2 742.6,365.2ZM776.8,324.8 777.0,325.6 776.0,326.1 775.4,325.2 775.8,324.3ZM775.2,338.3 774.8,339.0 773.9,338.4 773.9,337.4 775.0,337.3ZM730.8,362.7 730.2,362.3 730.3,361.3 731.5,361.1 731.7,361.9ZM758.6,356.6 759.1,357.4 758.7,358.1 758.0,357.7 757.6,356.6ZM765.0,376.3 764.8,375.5 765.4,375.5 765.8,375.8 766.2,376.5 765.9,377.1 765.2,376.9ZM752.4,340.5 752.8,340.1 753.6,340.3 753.9,341.0 753.8,341.4 752.7,341.2ZM770.0,334.9 769.4,335.1 768.7,334.6 768.5,334.0 769.1,333.7 769.8,334.1ZM723.8,347.4 724.7,347.9 724.9,348.7 724.1,349.3 723.3,349.2 723.2,348.1Z"/><circle cx="681.6" cy="393" r="50" fill="url(#por)"/><path fill="#546cbd" stroke="#546cbd" stroke-width="0.7" stroke-linejoin="round" d="M692.5,422.7 695.3,423.5 695.5,425.5 694.3,426.6 692.6,426.4 691.7,423.9ZM651.2,381.8 653.3,385.8 650.1,388.2 646.6,386.7 647.7,381.9ZM681.0,362.0 685.7,361.3 687.5,366.3 684.3,368.7 681.3,365.7ZM655.6,404.1 654.3,406.4 652.9,407.4 649.2,406.4 649.9,404.1 652.9,402.7ZM659.0,372.5 657.3,369.8 659.1,365.4 663.6,367.1 662.8,371.7ZM691.5,367.0 691.8,363.9 694.8,361.2 696.1,363.6 695.0,367.2 693.2,368.2ZM683.7,394.7 686.8,394.4 684.9,398.5 681.9,399.2 680.7,397.6ZM686.2,375.0 686.1,372.1 688.6,371.8 690.9,375.5 690.0,377.4ZM711.4,409.7 708.0,408.6 706.3,405.8 707.3,402.9 709.6,403.7 712.4,406.9ZM658.1,391.1 660.3,390.5 661.5,391.1 661.9,392.7 661.2,393.7 659.3,393.0 658.4,392.3ZM677.1,386.7 678.2,389.3 677.5,390.8 674.0,390.8 673.3,389.8 674.2,387.3ZM655.7,409.2 656.8,411.3 655.3,413.4 652.9,412.8 653.7,410.5ZM701.6,390.4 700.0,393.1 698.4,393.4 696.9,390.7 697.9,387.9 700.0,387.4ZM682.2,427.0 684.1,425.2 687.4,427.1 686.4,430.3 683.2,429.7ZM711.9,397.5 713.8,393.4 715.5,393.9 718.4,395.1 718.2,398.2 715.0,401.0 712.4,399.6ZM695.3,402.5 693.0,399.1 694.3,397.3 698.0,396.7 699.6,400.4 697.7,402.8ZM699.0,419.4 698.6,420.3 696.5,420.5 695.2,419.6 696.0,418.4 697.9,418.1ZM702.6,402.4 700.5,402.4 700.3,400.4 703.0,399.4 703.9,400.8ZM701.1,380.5 697.8,383.7 694.2,382.3 694.1,380.3 698.4,378.4ZM702.3,394.7 705.7,395.7 706.5,398.3 704.3,398.9 702.1,397.4ZM652.7,394.5 654.7,394.1 655.5,394.5 656.3,396.3 655.1,397.6 654.0,397.3 652.8,395.8ZM670.3,409.3 668.5,407.6 670.2,404.2 672.8,405.1 673.1,408.4ZM668.0,417.8 668.7,420.8 668.1,424.9 664.7,426.5 663.2,423.4 664.9,419.2ZM654.8,382.3 654.5,379.8 656.9,377.6 659.9,378.3 660.7,381.0 659.3,383.6 657.4,383.6ZM678.9,377.1 678.3,376.0 679.4,374.7 681.5,374.8 682.0,375.8 681.7,377.2 680.2,377.6ZM696.6,413.6 693.5,410.7 695.5,409.3 698.0,408.0 701.2,408.8 700.8,411.8 698.8,413.6ZM708.2,385.8 708.1,381.7 710.0,381.7 712.1,382.6 713.6,385.7 712.5,388.3 709.8,387.2ZM708.3,373.6 707.6,373.2 706.7,371.8 707.6,369.8 709.0,370.9 709.3,372.1ZM665.1,387.8 667.6,387.0 670.5,389.9 668.9,391.1 664.9,389.3ZM659.0,420.0 657.5,417.2 658.1,415.7 661.3,416.6 662.4,419.6 661.4,420.5ZM713.3,374.6 715.3,376.2 716.1,378.8 715.8,381.0 713.1,380.1 710.5,377.0 711.4,375.4ZM651.6,374.6 649.3,374.6 648.0,373.5 648.9,372.4 651.0,373.0ZM690.3,403.2 688.1,405.6 684.8,405.9 683.9,403.4 686.3,401.4 689.2,401.9ZM673.9,380.7 675.1,381.8 675.3,384.1 673.7,384.7 672.4,383.1 671.9,381.4ZM662.0,388.5 659.9,387.4 660.1,386.0 662.0,384.1 663.7,385.1 664.4,386.7 663.8,388.1ZM680.1,418.3 683.7,416.2 685.4,417.5 683.5,421.0 680.7,420.6ZM656.6,373.8 656.7,375.0 655.8,376.1 653.7,376.9 653.8,375.0 654.8,374.1ZM669.2,354.2 671.9,356.5 670.9,358.8 668.8,358.1 668.3,355.0ZM674.4,414.7 676.1,415.2 676.4,416.6 674.2,418.4 672.3,417.9 672.0,416.3ZM706.2,367.8 704.7,369.3 702.4,368.2 702.4,366.8 704.9,366.3ZM660.8,401.9 663.0,400.6 665.4,401.2 667.1,404.5 665.6,405.8 662.6,405.6 660.4,404.7ZM668.1,376.3 665.9,374.1 667.4,370.5 669.9,369.9 672.3,370.7 673.3,374.0 670.9,377.2ZM694.5,353.9 694.9,355.8 694.0,359.0 692.1,360.2 690.8,358.2 691.6,355.8ZM676.8,364.2 675.9,365.5 674.7,365.7 672.8,365.2 672.6,363.6 673.8,362.6 675.5,362.5ZM673.9,425.4 674.8,423.3 677.8,423.5 678.1,425.9 675.6,427.2ZM692.0,422.3 689.4,421.1 688.8,418.1 690.2,416.0 692.2,417.1 693.1,418.5ZM678.2,434.1 675.7,433.3 674.9,430.5 676.5,429.2 679.0,431.7ZM662.2,411.2 662.2,414.5 660.8,414.4 659.8,411.2 660.8,409.9ZM688.9,387.2 691.0,387.5 692.0,388.4 692.0,390.0 690.7,391.5 688.1,390.4 687.8,388.7ZM672.3,398.5 673.8,397.0 675.2,398.3 674.7,400.3 672.8,401.2 671.8,400.7ZM704.3,419.1 701.5,419.9 698.9,418.4 699.5,416.3 701.8,413.8 704.3,415.2 705.1,417.5ZM660.8,397.7 658.8,399.2 657.2,398.0 658.1,395.3 659.9,394.8ZM647.7,403.2 644.9,401.8 644.3,399.3 645.8,398.1 648.4,398.6 649.2,400.7ZM680.7,360.3 679.1,359.0 679.8,356.4 681.2,355.7 682.9,357.3 682.6,359.0ZM717.5,389.9 716.1,391.1 713.6,389.0 713.5,387.3 715.9,386.9 717.6,388.8ZM688.8,407.7 691.9,407.6 693.0,409.6 691.3,412.6 689.0,411.7ZM682.9,410.0 682.9,412.3 678.9,414.5 676.1,413.1 676.0,409.5 677.9,408.0 682.0,407.7ZM683.8,381.1 685.9,381.0 684.6,383.8 682.6,384.0 681.7,382.2ZM647.3,393.2 647.5,389.8 650.0,389.2 651.8,392.9 649.3,394.6ZM700.2,374.5 696.0,374.8 695.9,373.1 698.7,369.8 702.2,370.4 702.8,372.1ZM666.2,359.8 668.0,360.9 668.4,362.7 668.0,364.4 666.1,363.5 664.9,361.6 665.3,360.4ZM668.0,416.8 665.6,417.4 664.7,414.4 667.4,412.9 668.5,414.4ZM717.5,409.2 716.3,408.1 716.0,407.1 716.6,405.1 717.9,405.3 718.9,405.9 718.7,407.7ZM689.1,414.6 687.9,415.4 685.2,414.5 686.1,412.8 688.7,413.1ZM716.7,414.6 716.2,416.3 714.3,416.7 712.9,415.4 713.5,413.4 715.4,413.1ZM650.6,369.9 649.5,371.1 647.9,370.3 647.9,368.4 649.2,367.6 650.1,368.2ZM700.6,423.7 702.1,425.1 700.8,427.4 699.1,427.8 697.9,425.9 698.7,424.4ZM702.6,385.7 704.6,385.4 705.4,387.1 703.6,387.7 701.5,387.0ZM655.7,389.9 654.8,388.1 655.8,386.9 657.0,387.1 657.7,388.4 657.2,390.0ZM709.6,395.1 706.7,395.6 706.0,393.4 707.1,390.6 709.5,390.5 710.7,391.6 711.4,392.9ZM678.7,387.6 679.1,385.1 680.3,384.1 681.6,384.9 682.6,386.8 681.4,388.4 680.5,388.4ZM708.4,411.8 710.8,412.6 711.0,414.0 708.6,415.0 707.3,414.9 705.2,413.8 705.9,412.1ZM641.3,397.4 639.7,394.2 640.0,392.3 643.5,392.7 646.0,394.4 644.8,397.8ZM678.4,397.4 680.2,398.6 678.5,401.0 677.2,400.3 676.3,398.2ZM666.3,412.1 665.3,411.8 664.6,409.4 665.0,408.2 667.4,407.8 668.1,408.9 667.8,411.0ZM701.2,363.5 699.7,361.8 700.7,360.4 702.6,359.0 704.5,360.9 703.3,363.7ZM694.1,428.7 695.9,428.4 697.0,430.8 695.5,432.3 693.7,433.3 692.0,431.9 692.5,430.0ZM677.3,380.9 675.8,380.2 675.2,378.2 677.1,377.4 678.5,379.0ZM643.9,411.9 646.1,409.6 649.1,409.1 649.5,413.9 646.2,415.2ZM703.5,377.2 705.8,374.5 708.2,376.1 709.3,380.5 707.1,382.2 703.5,380.9ZM721.5,405.2 719.8,405.5 718.0,403.5 717.6,401.8 718.9,400.7 721.3,400.5 722.4,402.2ZM667.8,365.8 670.4,365.5 671.0,366.8 670.0,368.3 668.0,369.1 666.7,367.0ZM646.6,380.7 645.3,379.7 645.3,378.5 645.8,376.5 648.0,375.4 649.1,376.8 648.3,379.3ZM661.7,362.0 660.0,362.9 657.6,362.1 656.8,360.0 658.8,357.8 660.4,358.3 662.3,359.7ZM696.7,394.8 694.3,396.8 692.5,396.4 691.9,394.5 693.3,392.7 695.1,393.0ZM663.6,378.9 664.9,380.8 663.3,381.9 661.1,380.8 661.4,379.1ZM672.8,396.3 670.2,395.6 670.7,393.6 672.3,392.5 674.0,394.2ZM674.4,369.3 677.6,366.8 679.7,368.0 679.1,371.8 675.0,372.3ZM710.9,369.5 709.5,368.4 710.0,367.1 711.6,366.2 711.9,368.3ZM694.7,404.2 693.6,406.5 691.9,406.1 691.3,404.6 691.9,403.0 694.0,403.4ZM704.8,425.3 704.6,423.7 706.4,422.9 707.8,424.0 707.7,426.4 705.7,426.8ZM677.8,404.5 677.2,407.0 675.9,407.5 675.3,404.9 676.4,403.6ZM678.6,395.3 676.7,394.5 676.3,392.8 677.3,391.8 679.2,393.2ZM667.1,380.2 665.0,379.4 666.3,377.7 667.8,377.8 668.7,379.7ZM664.0,393.7 664.6,395.0 664.6,397.1 663.2,397.6 662.1,397.2 661.9,395.4 662.7,393.9ZM668.8,431.4 669.0,428.4 670.9,427.6 672.5,429.5 670.6,432.0ZM670.7,397.4 670.3,398.8 669.0,399.4 667.3,398.4 668.1,396.2 669.5,395.8ZM708.4,365.0 705.7,364.0 705.5,362.2 709.2,362.3 710.6,364.1ZM690.9,383.4 689.8,384.7 688.0,384.5 687.1,383.0 688.0,382.0 690.5,382.2ZM691.2,396.3 691.6,397.9 691.0,398.5 689.5,398.2 688.4,396.7 688.4,395.2 689.4,395.3ZM653.8,414.9 655.7,415.4 656.0,417.2 655.1,419.3 653.0,419.8 651.0,417.4 651.7,415.6ZM677.5,357.5 677.2,359.0 673.7,358.6 673.7,356.7 675.3,355.5ZM720.2,387.5 718.7,386.1 718.8,383.4 721.0,383.5 721.6,386.6ZM704.7,405.6 702.8,407.2 702.1,405.8 703.0,404.1 704.4,404.0ZM661.4,377.9 660.1,376.4 661.7,374.9 663.5,374.7 663.7,375.9 662.5,377.6ZM720.5,391.5 720.4,392.7 719.5,394.2 718.4,394.1 717.4,392.9 717.4,392.0 718.8,390.7ZM684.0,392.6 682.8,393.1 680.9,392.3 680.4,390.7 681.1,389.9 682.7,389.7 683.7,391.0ZM645.5,406.9 645.5,405.3 647.4,404.7 648.3,405.8 649.1,406.5 648.0,407.9 646.8,408.2ZM672.7,410.9 673.6,412.6 672.0,414.2 670.4,413.2 670.8,411.7ZM706.7,399.3 707.9,397.6 709.0,396.8 710.8,399.5 710.9,401.1 709.1,402.2 708.0,401.3ZM656.0,401.5 654.9,401.9 653.2,400.9 653.0,399.6 654.5,399.2 655.6,399.6ZM709.9,418.3 710.0,420.1 709.1,421.9 706.3,421.4 705.5,418.8 707.7,417.2ZM644.0,383.7 645.0,384.9 644.5,386.7 643.1,386.4 642.9,383.8ZM657.8,365.0 655.5,366.3 653.3,365.5 653.3,363.7 655.2,361.9 656.9,362.3ZM682.5,425.4 681.2,425.9 680.2,423.2 681.3,421.9 682.4,423.3ZM686.3,358.9 684.9,357.8 685.3,356.4 686.9,355.2 688.6,356.8 687.9,358.6ZM653.9,372.4 652.1,370.3 653.1,369.3 654.6,369.3 655.2,371.0ZM659.0,425.6 660.0,424.8 660.8,424.6 662.3,426.2 661.9,427.1 660.8,427.9 659.8,427.0ZM691.2,425.1 689.9,427.0 688.3,426.4 688.2,424.6 689.6,423.8ZM714.6,372.5 712.9,373.5 711.4,372.7 711.9,371.6 712.8,370.3 714.3,370.4 715.0,371.1ZM680.5,401.6 682.6,402.2 681.3,404.5 679.1,404.5 679.4,402.7ZM664.7,383.7 665.5,382.2 666.4,381.7 667.8,382.4 668.6,383.8 667.6,385.2 665.9,385.3ZM693.7,386.4 691.8,386.0 691.2,385.2 691.8,383.9 692.6,383.6 694.1,384.0 694.4,386.0ZM699.2,405.0 698.4,405.8 697.9,405.8 697.0,405.4 698.0,404.1 699.2,403.4 699.6,404.0ZM692.7,412.9 693.8,413.0 694.4,413.8 694.4,415.2 693.4,415.2 692.5,414.5 691.9,413.4ZM656.7,407.0 656.3,405.8 656.7,405.1 658.3,404.1 659.2,404.7 658.9,406.2 657.6,406.7ZM651.3,378.0 652.2,377.0 653.5,377.7 653.6,379.4 652.0,380.4 651.2,379.7ZM685.7,387.9 684.5,389.3 683.9,388.1 684.5,386.2 685.4,385.3 686.1,386.5ZM681.6,370.7 682.1,368.7 683.8,369.0 684.7,371.0 683.0,371.8ZM698.1,364.6 699.8,364.2 701.7,365.1 701.9,367.3 699.6,368.3 698.6,367.2ZM691.4,377.7 692.4,379.7 691.3,380.7 690.1,380.5 689.4,378.6ZM659.2,422.5 658.5,423.8 657.4,423.9 656.0,423.1 655.4,422.2 656.6,421.4 658.0,421.8ZM652.2,397.8 651.0,398.6 649.2,398.5 648.9,397.1 649.8,396.6 651.7,395.9 652.2,397.0ZM644.7,387.9 645.8,388.5 645.5,389.7 644.7,390.5 643.4,390.4 643.4,389.5 644.1,388.2ZM713.8,404.6 713.3,403.1 715.2,402.3 716.5,402.9 716.3,404.1ZM669.8,360.8 671.1,360.3 672.2,361.6 671.4,362.7 670.2,362.6ZM684.4,423.3 684.0,421.7 685.2,420.9 686.6,421.6 686.8,423.2 686.0,423.8ZM677.4,419.3 678.3,420.7 677.6,422.1 676.4,421.7 675.6,420.3 675.8,419.1ZM692.5,372.7 694.2,371.8 695.3,372.5 695.1,373.6 693.7,373.9ZM703.9,410.7 703.6,408.9 704.7,408.1 706.2,408.9 706.1,410.6ZM712.2,411.5 712.2,409.8 713.1,408.9 714.7,409.3 714.7,410.8 713.0,411.5ZM679.4,383.5 677.9,383.7 677.5,383.0 677.8,381.2 678.8,380.7 680.2,381.5 680.0,382.6ZM721.4,394.6 722.1,395.8 721.5,397.2 720.0,396.1 720.0,394.6ZM686.9,392.0 684.9,391.7 684.5,390.5 686.0,389.9 687.1,390.7ZM671.3,419.6 671.9,419.2 672.9,419.7 673.7,420.6 672.6,421.2 671.6,421.0 670.7,420.4ZM677.0,362.0 676.6,360.9 676.6,360.3 677.6,360.4 678.1,361.3 678.2,361.9 677.6,362.3ZM642.2,399.8 643.2,399.5 643.7,400.1 643.0,401.1 641.7,401.7 641.1,401.4 641.2,400.4ZM673.8,374.2 674.1,372.7 676.0,372.9 675.9,374.4 674.9,375.1ZM672.4,379.3 670.9,379.7 670.4,378.8 670.4,377.6 671.8,376.9 672.3,378.1ZM677.6,364.5 677.8,363.6 678.6,363.2 680.1,363.7 680.5,364.2 680.0,365.2 678.4,365.2ZM653.9,392.4 653.9,391.2 654.5,390.6 655.4,391.4 655.3,392.3 654.8,393.3ZM689.5,367.5 690.6,367.4 690.6,368.4 690.0,369.9 689.2,369.7 688.5,369.6 688.6,367.8ZM661.2,364.3 661.2,363.4 662.2,362.5 663.4,362.4 664.4,362.9 663.6,364.0 662.3,364.4ZM677.9,353.4 679.2,353.8 679.4,354.7 678.5,355.3 677.3,355.0 677.0,353.8ZM689.2,430.6 688.7,430.2 689.3,428.9 690.0,428.3 690.6,429.0 690.3,429.9 689.8,430.7ZM687.4,381.1 686.4,380.9 686.6,379.4 688.1,378.8 688.4,379.3ZM695.7,385.5 696.5,385.7 696.9,386.5 696.2,387.6 695.3,387.7 694.6,387.4 695.0,386.4ZM663.8,359.7 662.7,359.2 663.1,357.7 664.4,357.5 664.8,359.0ZM679.4,428.9 678.6,427.8 679.2,426.5 680.5,426.5 681.6,427.7 680.8,428.7ZM699.4,358.6 698.9,357.4 700.2,356.2 701.4,357.1 701.0,358.1ZM644.3,403.3 645.2,404.5 644.9,405.6 643.9,406.2 642.6,405.9 642.4,404.5 642.8,403.9ZM668.5,402.4 668.2,401.5 669.4,400.5 670.7,401.4 670.8,402.5 669.6,403.0ZM684.1,407.7 685.6,408.2 685.7,409.5 684.4,409.2 683.7,408.2ZM665.2,427.6 665.2,428.8 664.6,430.0 663.5,429.3 663.3,428.1 663.8,427.2ZM690.1,360.4 690.1,361.3 689.2,361.5 688.3,361.0 688.1,360.4 688.8,360.0ZM678.6,418.0 678.0,417.6 677.8,416.3 678.3,415.5 679.2,416.1 679.6,417.2 679.3,418.1ZM718.9,382.7 717.7,382.6 717.7,381.6 718.2,380.6 719.2,380.3 719.4,381.4ZM687.5,353.3 687.0,354.1 686.0,354.6 685.4,353.6 685.7,352.4 686.8,351.8 687.5,351.8ZM716.3,383.3 715.8,383.9 715.0,383.3 714.6,381.8 715.4,381.5 715.9,381.4ZM672.6,424.6 672.6,425.4 671.8,425.7 670.1,425.3 670.3,424.5 671.3,424.1ZM703.3,391.6 704.0,392.1 703.4,393.2 702.1,393.3 702.1,392.3ZM661.0,408.7 660.1,409.5 659.1,408.9 659.7,407.3 660.9,407.3ZM670.7,416.5 671.9,417.5 671.6,418.5 670.5,419.0 669.6,418.3 669.4,417.2 669.9,416.3ZM672.8,409.8 673.9,408.5 674.9,409.3 674.8,410.5 673.1,411.1ZM657.8,402.6 657.0,401.0 657.4,400.2 658.2,399.6 659.0,400.2 659.1,402.0 658.7,402.7ZM720.5,389.4 720.9,388.8 722.0,388.9 722.3,389.6 721.9,390.2 721.0,391.1 720.5,390.8ZM665.8,365.1 666.5,366.1 666.0,367.1 664.4,367.3 664.4,366.2ZM671.7,387.0 671.3,387.4 670.5,387.0 670.4,385.4 670.7,385.1 671.5,385.2 671.9,385.9ZM690.2,400.7 691.4,399.8 692.1,399.8 692.3,400.9 692.0,401.4 690.7,401.8 690.1,401.2ZM700.3,397.1 699.1,397.1 699.3,396.0 700.8,395.9 701.1,396.6ZM681.8,354.5 681.9,353.6 682.6,353.2 683.4,353.2 683.7,354.5 683.0,355.1 682.2,355.3ZM710.9,417.4 712.3,416.9 713.9,417.2 713.4,417.9 711.8,418.6 711.3,418.1ZM694.1,377.6 693.2,377.5 692.2,376.7 692.4,376.0 693.4,376.0 694.4,376.6 695.0,377.3ZM688.0,392.4 688.3,393.0 688.0,393.8 687.0,394.3 686.5,394.1 687.1,392.9ZM703.5,373.4 704.5,372.0 705.4,372.5 706.1,373.5 705.0,374.4 704.3,374.4ZM669.0,380.7 670.8,381.1 670.9,382.1 670.5,382.9 669.2,382.8 668.4,382.0ZM683.9,378.1 684.7,377.6 685.2,377.7 685.4,378.5 684.8,379.4 683.8,379.6 683.8,379.0ZM665.9,393.5 666.6,393.2 667.8,393.9 667.9,394.4 667.2,394.7 665.9,394.2ZM703.0,412.1 703.9,411.5 704.3,412.3 703.8,413.2 702.8,413.3 702.4,413.0ZM701.8,423.5 702.2,422.3 703.4,421.8 704.2,422.2 703.5,423.6ZM646.8,396.5 646.9,395.6 648.0,395.1 648.5,395.7 648.5,397.0 647.4,397.3ZM695.6,417.3 694.8,416.4 695.3,415.5 696.2,415.3 696.5,416.6ZM684.3,433.4 683.2,433.8 682.6,433.1 682.3,432.1 682.8,431.7 684.0,432.5ZM704.8,402.4 705.3,401.6 706.5,402.0 706.8,403.0 706.5,403.5 705.8,403.8 704.8,403.3ZM651.9,389.9 651.7,389.0 652.1,388.4 653.1,388.6 653.3,389.5 653.1,390.3ZM672.5,390.1 672.6,391.3 671.9,391.9 670.9,391.2 671.1,389.8ZM693.4,389.5 693.9,389.3 695.2,389.8 695.4,390.5 694.7,390.9 693.8,390.6ZM692.2,370.9 691.7,370.0 692.0,369.2 693.7,369.0 694.2,369.7 693.5,371.1ZM702.0,376.9 702.0,377.4 701.2,377.9 700.4,377.8 700.3,377.1 700.6,376.2 701.6,376.2ZM698.9,430.5 697.7,430.4 697.1,429.6 697.4,428.7 697.9,428.2 699.1,428.5 699.4,429.4ZM703.0,384.2 702.3,383.9 701.6,383.3 701.9,382.1 702.6,381.7 703.7,382.3 703.8,383.6ZM696.5,361.7 696.1,361.0 696.0,360.0 696.8,360.0 697.6,360.3 697.4,361.3ZM650.3,414.2 650.5,413.7 651.0,412.9 651.6,413.3 651.9,414.0 651.7,414.8 651.0,415.0ZM659.7,422.4 660.6,421.8 661.2,422.2 661.4,422.7 660.8,423.3 659.7,423.7 659.3,423.3ZM705.7,388.4 706.6,388.0 707.2,388.2 707.1,388.8 706.9,389.3 705.9,389.4 705.5,389.0ZM673.7,367.9 673.0,368.2 672.0,367.5 672.1,366.7 673.0,366.4 673.8,366.9ZM683.9,373.5 683.5,374.2 682.1,374.2 681.8,373.4 683.1,373.0ZM664.2,393.3 663.4,392.2 663.6,391.3 665.1,391.7 665.2,392.6ZM652.0,409.9 651.2,410.9 650.8,410.1 650.8,408.8 651.8,408.8ZM718.4,377.9 719.0,377.6 719.5,377.7 719.5,378.3 718.8,379.3 718.0,379.4 718.0,378.8ZM681.5,353.3 680.9,353.5 680.1,353.7 679.3,352.8 679.6,352.1 680.7,351.8 681.5,352.4ZM700.3,422.3 698.8,422.4 698.7,421.5 699.8,421.0 700.6,421.3ZM655.8,384.9 656.0,385.8 655.5,386.4 654.6,386.3 653.9,385.6 654.3,384.8 655.3,384.3ZM712.1,391.7 712.6,391.2 713.8,391.8 713.9,392.7 713.3,393.3 712.3,392.9ZM680.3,380.4 679.3,379.9 679.4,379.2 679.6,378.8 680.5,378.8 681.1,379.2 680.9,380.4ZM700.8,385.9 700.2,386.3 699.7,386.5 699.2,386.2 699.6,385.2 700.3,384.7 700.8,385.2ZM651.0,400.5 651.7,400.6 652.0,401.1 650.7,401.9 650.1,401.6 650.2,400.8ZM673.7,430.0 673.5,429.4 673.8,428.8 674.9,428.1 675.0,428.8 674.5,429.6ZM685.4,370.8 685.4,369.8 685.8,369.2 686.7,368.9 686.9,369.5 686.2,370.7ZM665.2,368.7 666.2,368.5 667.0,369.0 666.9,369.6 665.7,369.7 665.2,369.1ZM697.9,422.7 698.2,423.6 697.1,424.3 696.5,423.5 696.3,422.9 697.4,422.4ZM706.7,369.5 706.9,368.3 707.8,367.9 708.2,368.5 707.6,369.4ZM680.4,430.9 681.3,430.2 682.2,430.9 681.5,432.0 680.4,431.7ZM657.4,385.3 658.1,384.4 658.7,384.5 659.4,385.0 659.5,385.7 658.7,386.2 657.6,385.9ZM672.8,354.4 672.4,353.6 672.3,353.1 673.2,353.3 673.9,353.8 674.0,354.4 673.5,354.5ZM657.8,415.0 657.9,415.7 656.7,415.5 656.4,414.9 656.9,414.5ZM656.1,392.7 656.9,392.6 657.6,393.5 657.2,394.2 656.3,393.8ZM683.7,413.4 684.7,414.4 684.4,415.0 683.5,415.4 682.9,415.0 683.0,413.8ZM674.5,412.8 674.4,412.2 675.2,411.9 675.7,412.1 675.8,413.0 675.8,413.6 675.1,413.6ZM651.5,367.6 651.0,367.2 650.9,366.6 651.3,365.9 652.4,366.2 652.8,367.0 652.4,367.4ZM713.8,408.3 712.9,407.4 713.5,406.7 714.3,406.7 714.7,407.1 714.6,408.2ZM678.5,374.6 677.3,374.6 677.0,373.7 677.6,373.1 678.8,373.8ZM705.0,383.3 705.7,382.8 706.2,383.4 706.5,384.1 705.7,384.6 704.9,384.4ZM659.7,374.8 659.2,375.4 658.4,375.8 657.9,375.5 657.6,374.6 658.2,374.1 659.2,374.0ZM664.1,373.8 663.3,373.2 663.4,372.4 664.5,372.2 665.0,372.9ZM690.8,392.8 690.7,393.6 690.3,394.3 689.5,393.8 689.4,393.0 690.0,392.5ZM683.6,406.5 682.9,406.9 682.2,406.8 681.7,406.4 682.1,405.6 683.0,405.4 683.7,405.6ZM645.4,381.7 645.3,382.3 644.5,382.6 643.8,382.1 644.0,380.9 644.9,380.9Z"/>
<g filter="url(#soft)"><circle cx="597.5" cy="410.0" r="54.0" fill="#076dbe"/><circle cx="597.5" cy="413.51" r="46.71" fill="url(#bot)"/><ellipse cx="613.7" cy="379.2" rx="27.0" ry="20.5" fill="url(#hl)" transform="rotate(22 613.7 379.2)"/><circle cx="597.5" cy="410.0" r="53.0" fill="none" stroke="#d8e6f6" stroke-opacity="0.7" stroke-width="1.6"/></g><g filter="url(#soft)"><circle cx="512.0" cy="390.0" r="56.0" fill="#076dbe"/><circle cx="512.0" cy="393.64" r="48.44" fill="url(#bot)"/><ellipse cx="528.8" cy="358.1" rx="28.0" ry="21.3" fill="url(#hl)" transform="rotate(22 528.8 358.1)"/><circle cx="512.0" cy="390.0" r="55.0" fill="none" stroke="#d8e6f6" stroke-opacity="0.7" stroke-width="1.6"/></g>

<g stroke="#2b2b2b" stroke-width="1.2" fill="none">
<polyline points="681.6,171.3 692.5,133 720,230.8"/>
<line x1="534.1" y1="209.4" x2="497.3" y2="248.3"/>
<line x1="600.6" y1="429" x2="600.6" y2="486"/>
</g>
<g stroke="#777" stroke-width="1.3"><line x1="164" y1="422" x2="164" y2="455"/><line x1="228" y1="422" x2="228" y2="455"/></g>
<line x1="164" y1="437.6" x2="228" y2="437.6" stroke="#555" stroke-width="1.2"/>

</svg>
<div class="t" style="left:26.8px;top:42.6px;font-size:35px;line-height:40px;letter-spacing:0;color:#5c5c5c;-webkit-text-stroke:0.5px #5c5c5c;">气凝胶微观示意图</div>
<div class="t" style="left:597px;top:108px;">颗粒间隙<span class="p">(</span>微孔<span class="p">)</span></div>
<div class="t" style="left:458px;top:253px;">致密的初级</div>
<div class="t" style="left:433px;top:278.4px;">纳米颗粒<span class="p">(</span><span class="l">⩽1nm</span><span class="p">)</span></div>
<div class="t" style="left:572.6px;top:491px;">次级纳米</div>
<div class="t" style="left:548.5px;top:510px;">颗粒<span class="p">(</span><span class="l2">5-10nm</span><span class="p">)</span></div>
<div class="t" style="left:176.8px;top:444.3px;font-size:15.8px;letter-spacing:1px;">10nm</div>
</body></html>
